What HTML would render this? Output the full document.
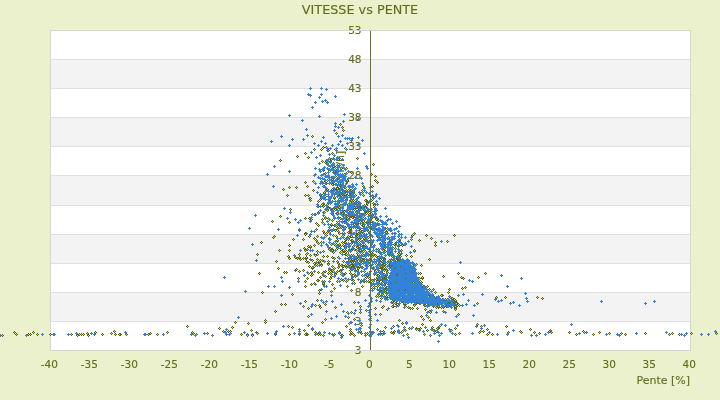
<!DOCTYPE html>
<html><head><meta charset="utf-8"><title>VITESSE vs PENTE</title>
<style>
html,body{margin:0;padding:0;background:#ebf0cd;}
body{width:720px;height:400px;overflow:hidden;position:relative;font-family:"DejaVu Sans","Liberation Sans",sans-serif;color:#636b1a;}
svg{position:absolute;left:0;top:0;display:block;will-change:transform}
text{font-family:"DejaVu Sans","Liberation Sans",sans-serif;fill:#636b1a;stroke:#636b1a;stroke-width:0.1px}
</style></head><body>
<svg width="720" height="400" viewBox="0 0 720 400" shape-rendering="crispEdges">
<defs>
<g id="b"><rect x="-1" y="0" width="3" height="1" fill="#3282d8"/><rect x="0" y="-1" width="1" height="3" fill="#3282d8"/></g>
<g id="o"><rect x="-1" y="0" width="3" height="1" fill="#5a6212"/><rect x="0" y="-1" width="1" height="3" fill="#5a6212"/><rect x="0" y="0" width="1" height="1" fill="#c3d45a"/></g>
</defs>
<rect x="0" y="0" width="720" height="400" fill="#ebf0cd"/>

<rect x="50" y="30" width="641" height="321" fill="#e0e0e0"/>
<rect x="51" y="31" width="639" height="28" fill="#ffffff"/>
<rect x="51" y="60" width="639" height="28" fill="#f3f3f3"/>
<rect x="51" y="89" width="639" height="28" fill="#ffffff"/>
<rect x="51" y="118" width="639" height="28" fill="#f3f3f3"/>
<rect x="51" y="147" width="639" height="28" fill="#ffffff"/>
<rect x="51" y="176" width="639" height="29" fill="#f3f3f3"/>
<rect x="51" y="206" width="639" height="28" fill="#ffffff"/>
<rect x="51" y="235" width="639" height="28" fill="#f3f3f3"/>
<rect x="51" y="264" width="639" height="28" fill="#ffffff"/>
<rect x="51" y="293" width="639" height="28" fill="#f3f3f3"/>
<rect x="51" y="322" width="639" height="28" fill="#ffffff"/>
<text x="0" y="0" font-size="11" text-anchor="middle" transform="translate(343.5,190.5) rotate(-90)">Vitesse [km/h]</text>
<text x="361.5" y="34" font-size="10.5" text-anchor="end">53</text>
<text x="361.5" y="63" font-size="10.5" text-anchor="end">48</text>
<text x="361.5" y="92" font-size="10.5" text-anchor="end">43</text>
<text x="361.5" y="121" font-size="10.5" text-anchor="end">38</text>
<text x="361.5" y="150" font-size="10.5" text-anchor="end">33</text>
<text x="361.5" y="179" font-size="10.5" text-anchor="end">28</text>
<text x="361.5" y="209" font-size="10.5" text-anchor="end">23</text>
<text x="361.5" y="238" font-size="10.5" text-anchor="end">18</text>
<text x="361.5" y="267" font-size="10.5" text-anchor="end">13</text>
<text x="361.5" y="296" font-size="10.5" text-anchor="end">8</text>
<text x="361.5" y="325" font-size="10.5" text-anchor="end">3</text>
<text x="361.5" y="354" font-size="10.5" text-anchor="end">3</text>
<text x="49.3" y="368" font-size="10.5" text-anchor="middle">-40</text>
<text x="89.3" y="368" font-size="10.5" text-anchor="middle">-35</text>
<text x="129.3" y="368" font-size="10.5" text-anchor="middle">-30</text>
<text x="169.3" y="368" font-size="10.5" text-anchor="middle">-25</text>
<text x="209.3" y="368" font-size="10.5" text-anchor="middle">-20</text>
<text x="249.3" y="368" font-size="10.5" text-anchor="middle">-15</text>
<text x="289.3" y="368" font-size="10.5" text-anchor="middle">-10</text>
<text x="329.3" y="368" font-size="10.5" text-anchor="middle">-5</text>
<text x="369.3" y="368" font-size="10.5" text-anchor="middle">0</text>
<text x="409.3" y="368" font-size="10.5" text-anchor="middle">5</text>
<text x="449.3" y="368" font-size="10.5" text-anchor="middle">10</text>
<text x="489.3" y="368" font-size="10.5" text-anchor="middle">15</text>
<text x="529.3" y="368" font-size="10.5" text-anchor="middle">20</text>
<text x="569.3" y="368" font-size="10.5" text-anchor="middle">25</text>
<text x="609.3" y="368" font-size="10.5" text-anchor="middle">30</text>
<text x="649.3" y="368" font-size="10.5" text-anchor="middle">35</text>
<text x="689.3" y="368" font-size="10.5" text-anchor="middle">40</text>
<text x="690" y="384" font-size="11" text-anchor="end">Pente [%]</text>
<text x="360" y="14" font-size="12.8" text-anchor="middle">VITESSE vs PENTE</text>
<path d="M50 30h641v1h-641zM50 350h641v1h-641zM50 30h1v321h-1zM690 30h1v321h-1z" fill="#d6d6d6"/>
<g><use href="#b" x="389" y="288"/><use href="#b" x="389" y="293"/><use href="#b" x="390" y="275"/><use href="#b" x="390" y="280"/><use href="#b" x="390" y="285"/><use href="#b" x="390" y="290"/><use href="#b" x="390" y="295"/><use href="#b" x="391" y="272"/><use href="#b" x="391" y="277"/><use href="#b" x="391" y="282"/><use href="#b" x="391" y="287"/><use href="#b" x="391" y="292"/><use href="#b" x="391" y="297"/><use href="#b" x="392" y="264"/><use href="#b" x="392" y="269"/><use href="#b" x="392" y="274"/><use href="#b" x="392" y="279"/><use href="#b" x="392" y="284"/><use href="#b" x="392" y="289"/><use href="#b" x="392" y="294"/><use href="#b" x="392" y="299"/><use href="#b" x="393" y="266"/><use href="#b" x="393" y="271"/><use href="#b" x="393" y="276"/><use href="#b" x="393" y="281"/><use href="#b" x="393" y="286"/><use href="#b" x="393" y="291"/><use href="#b" x="393" y="296"/><use href="#b" x="394" y="263"/><use href="#b" x="394" y="268"/><use href="#b" x="394" y="273"/><use href="#b" x="394" y="278"/><use href="#b" x="394" y="283"/><use href="#b" x="394" y="288"/><use href="#b" x="394" y="293"/><use href="#b" x="394" y="298"/><use href="#b" x="395" y="265"/><use href="#b" x="395" y="270"/><use href="#b" x="395" y="275"/><use href="#b" x="395" y="280"/><use href="#b" x="395" y="285"/><use href="#b" x="395" y="290"/><use href="#b" x="395" y="295"/><use href="#b" x="395" y="300"/><use href="#b" x="396" y="262"/><use href="#b" x="396" y="267"/><use href="#b" x="396" y="272"/><use href="#b" x="396" y="277"/><use href="#b" x="396" y="282"/><use href="#b" x="396" y="287"/><use href="#b" x="396" y="292"/><use href="#b" x="396" y="297"/><use href="#b" x="397" y="264"/><use href="#b" x="397" y="269"/><use href="#b" x="397" y="274"/><use href="#b" x="397" y="279"/><use href="#b" x="397" y="284"/><use href="#b" x="397" y="289"/><use href="#b" x="397" y="294"/><use href="#b" x="397" y="299"/><use href="#b" x="398" y="266"/><use href="#b" x="398" y="271"/><use href="#b" x="398" y="276"/><use href="#b" x="398" y="281"/><use href="#b" x="398" y="286"/><use href="#b" x="398" y="291"/><use href="#b" x="398" y="296"/><use href="#b" x="399" y="263"/><use href="#b" x="399" y="268"/><use href="#b" x="399" y="273"/><use href="#b" x="399" y="278"/><use href="#b" x="399" y="283"/><use href="#b" x="399" y="288"/><use href="#b" x="399" y="293"/><use href="#b" x="399" y="298"/><use href="#b" x="400" y="265"/><use href="#b" x="400" y="270"/><use href="#b" x="400" y="275"/><use href="#b" x="400" y="280"/><use href="#b" x="400" y="285"/><use href="#b" x="400" y="290"/><use href="#b" x="400" y="295"/><use href="#b" x="400" y="300"/><use href="#b" x="401" y="262"/><use href="#b" x="401" y="267"/><use href="#b" x="401" y="272"/><use href="#b" x="401" y="277"/><use href="#b" x="401" y="282"/><use href="#b" x="401" y="287"/><use href="#b" x="401" y="292"/><use href="#b" x="401" y="297"/><use href="#b" x="402" y="264"/><use href="#b" x="402" y="269"/><use href="#b" x="402" y="274"/><use href="#b" x="402" y="279"/><use href="#b" x="402" y="284"/><use href="#b" x="402" y="289"/><use href="#b" x="402" y="294"/><use href="#b" x="402" y="299"/><use href="#b" x="403" y="261"/><use href="#b" x="403" y="266"/><use href="#b" x="403" y="271"/><use href="#b" x="403" y="276"/><use href="#b" x="403" y="281"/><use href="#b" x="403" y="286"/><use href="#b" x="403" y="291"/><use href="#b" x="403" y="296"/><use href="#b" x="403" y="301"/><use href="#b" x="404" y="263"/><use href="#b" x="404" y="268"/><use href="#b" x="404" y="273"/><use href="#b" x="404" y="278"/><use href="#b" x="404" y="283"/><use href="#b" x="404" y="288"/><use href="#b" x="404" y="293"/><use href="#b" x="404" y="298"/><use href="#b" x="405" y="265"/><use href="#b" x="405" y="270"/><use href="#b" x="405" y="275"/><use href="#b" x="405" y="280"/><use href="#b" x="405" y="285"/><use href="#b" x="405" y="290"/><use href="#b" x="405" y="295"/><use href="#b" x="405" y="300"/><use href="#b" x="406" y="262"/><use href="#b" x="406" y="267"/><use href="#b" x="406" y="272"/><use href="#b" x="406" y="277"/><use href="#b" x="406" y="282"/><use href="#b" x="406" y="287"/><use href="#b" x="406" y="292"/><use href="#b" x="406" y="297"/><use href="#b" x="407" y="264"/><use href="#b" x="407" y="269"/><use href="#b" x="407" y="274"/><use href="#b" x="407" y="279"/><use href="#b" x="407" y="284"/><use href="#b" x="407" y="289"/><use href="#b" x="407" y="294"/><use href="#b" x="407" y="299"/><use href="#b" x="408" y="261"/><use href="#b" x="408" y="266"/><use href="#b" x="408" y="271"/><use href="#b" x="408" y="276"/><use href="#b" x="408" y="281"/><use href="#b" x="408" y="286"/><use href="#b" x="408" y="291"/><use href="#b" x="408" y="296"/><use href="#b" x="408" y="301"/><use href="#b" x="409" y="263"/><use href="#b" x="409" y="268"/><use href="#b" x="409" y="273"/><use href="#b" x="409" y="278"/><use href="#b" x="409" y="283"/><use href="#b" x="409" y="288"/><use href="#b" x="409" y="293"/><use href="#b" x="409" y="298"/><use href="#b" x="410" y="265"/><use href="#b" x="410" y="270"/><use href="#b" x="410" y="275"/><use href="#b" x="410" y="280"/><use href="#b" x="410" y="285"/><use href="#b" x="410" y="290"/><use href="#b" x="410" y="295"/><use href="#b" x="410" y="300"/><use href="#b" x="411" y="267"/><use href="#b" x="411" y="272"/><use href="#b" x="411" y="277"/><use href="#b" x="411" y="282"/><use href="#b" x="411" y="287"/><use href="#b" x="411" y="292"/><use href="#b" x="411" y="297"/><use href="#b" x="411" y="302"/><use href="#b" x="412" y="269"/><use href="#b" x="412" y="274"/><use href="#b" x="412" y="279"/><use href="#b" x="412" y="284"/><use href="#b" x="412" y="289"/><use href="#b" x="412" y="294"/><use href="#b" x="412" y="299"/><use href="#b" x="413" y="266"/><use href="#b" x="413" y="271"/><use href="#b" x="413" y="276"/><use href="#b" x="413" y="281"/><use href="#b" x="413" y="286"/><use href="#b" x="413" y="291"/><use href="#b" x="413" y="296"/><use href="#b" x="413" y="301"/><use href="#b" x="414" y="273"/><use href="#b" x="414" y="278"/><use href="#b" x="414" y="283"/><use href="#b" x="414" y="288"/><use href="#b" x="414" y="293"/><use href="#b" x="414" y="298"/><use href="#b" x="415" y="275"/><use href="#b" x="415" y="280"/><use href="#b" x="415" y="285"/><use href="#b" x="415" y="290"/><use href="#b" x="415" y="295"/><use href="#b" x="415" y="300"/><use href="#b" x="416" y="277"/><use href="#b" x="416" y="282"/><use href="#b" x="416" y="287"/><use href="#b" x="416" y="292"/><use href="#b" x="416" y="297"/><use href="#b" x="416" y="302"/><use href="#b" x="417" y="279"/><use href="#b" x="417" y="284"/><use href="#b" x="417" y="289"/><use href="#b" x="417" y="294"/><use href="#b" x="417" y="299"/><use href="#b" x="418" y="281"/><use href="#b" x="418" y="286"/><use href="#b" x="418" y="291"/><use href="#b" x="418" y="296"/><use href="#b" x="418" y="301"/><use href="#b" x="419" y="283"/><use href="#b" x="419" y="288"/><use href="#b" x="419" y="293"/><use href="#b" x="419" y="298"/><use href="#b" x="419" y="303"/><use href="#b" x="420" y="285"/><use href="#b" x="420" y="290"/><use href="#b" x="420" y="295"/><use href="#b" x="420" y="300"/><use href="#b" x="421" y="287"/><use href="#b" x="421" y="292"/><use href="#b" x="421" y="297"/><use href="#b" x="421" y="302"/><use href="#b" x="422" y="289"/><use href="#b" x="422" y="294"/><use href="#b" x="422" y="299"/><use href="#b" x="423" y="291"/><use href="#b" x="423" y="296"/><use href="#b" x="423" y="301"/><use href="#b" x="424" y="288"/><use href="#b" x="424" y="293"/><use href="#b" x="424" y="298"/><use href="#b" x="424" y="303"/><use href="#b" x="425" y="290"/><use href="#b" x="425" y="295"/><use href="#b" x="425" y="300"/><use href="#b" x="426" y="292"/><use href="#b" x="426" y="297"/><use href="#b" x="426" y="302"/><use href="#b" x="427" y="294"/><use href="#b" x="427" y="299"/><use href="#b" x="428" y="296"/><use href="#b" x="428" y="301"/><use href="#b" x="429" y="293"/><use href="#b" x="429" y="298"/><use href="#b" x="429" y="303"/><use href="#b" x="430" y="295"/><use href="#b" x="430" y="300"/><use href="#b" x="431" y="297"/><use href="#b" x="431" y="302"/><use href="#b" x="432" y="294"/><use href="#b" x="432" y="299"/><use href="#b" x="432" y="304"/><use href="#b" x="433" y="296"/><use href="#b" x="433" y="301"/><use href="#b" x="434" y="298"/><use href="#b" x="434" y="303"/><use href="#b" x="435" y="300"/><use href="#b" x="436" y="297"/><use href="#b" x="436" y="302"/><use href="#b" x="437" y="299"/><use href="#b" x="437" y="304"/><use href="#b" x="438" y="301"/><use href="#b" x="439" y="298"/><use href="#b" x="439" y="303"/><use href="#b" x="440" y="300"/><use href="#b" x="441" y="302"/><use href="#b" x="442" y="299"/><use href="#b" x="442" y="304"/><use href="#b" x="443" y="301"/><use href="#b" x="444" y="303"/><use href="#b" x="445" y="300"/><use href="#b" x="446" y="302"/><use href="#b" x="447" y="304"/><use href="#b" x="448" y="301"/><use href="#b" x="449" y="303"/><use href="#b" x="451" y="302"/><use href="#b" x="452" y="304"/><use href="#b" x="454" y="303"/><use href="#o" x="320" y="334"/><use href="#o" x="462" y="288"/><use href="#o" x="322" y="222"/><use href="#b" x="416" y="295"/><use href="#o" x="370" y="209"/><use href="#b" x="348" y="237"/><use href="#o" x="344" y="211"/><use href="#o" x="312" y="260"/><use href="#b" x="424" y="296"/><use href="#o" x="346" y="220"/><use href="#b" x="411" y="286"/><use href="#b" x="369" y="274"/><use href="#b" x="364" y="213"/><use href="#o" x="369" y="220"/><use href="#b" x="358" y="258"/><use href="#b" x="352" y="216"/><use href="#o" x="398" y="258"/><use href="#o" x="88" y="335"/><use href="#b" x="331" y="196"/><use href="#o" x="443" y="311"/><use href="#b" x="450" y="305"/><use href="#o" x="402" y="301"/><use href="#o" x="379" y="283"/><use href="#o" x="353" y="192"/><use href="#o" x="356" y="260"/><use href="#b" x="416" y="285"/><use href="#b" x="489" y="332"/><use href="#b" x="337" y="238"/><use href="#b" x="403" y="260"/><use href="#b" x="330" y="191"/><use href="#o" x="403" y="262"/><use href="#o" x="359" y="205"/><use href="#b" x="349" y="138"/><use href="#b" x="426" y="292"/><use href="#o" x="393" y="301"/><use href="#b" x="364" y="209"/><use href="#o" x="438" y="303"/><use href="#b" x="344" y="178"/><use href="#o" x="368" y="281"/><use href="#b" x="349" y="186"/><use href="#o" x="378" y="220"/><use href="#b" x="359" y="213"/><use href="#b" x="398" y="272"/><use href="#b" x="325" y="100"/><use href="#b" x="329" y="248"/><use href="#b" x="353" y="191"/><use href="#b" x="397" y="275"/><use href="#o" x="322" y="273"/><use href="#b" x="390" y="298"/><use href="#o" x="401" y="250"/><use href="#o" x="424" y="304"/><use href="#b" x="427" y="301"/><use href="#o" x="392" y="253"/><use href="#o" x="317" y="236"/><use href="#b" x="341" y="193"/><use href="#b" x="586" y="332"/><use href="#o" x="333" y="235"/><use href="#o" x="332" y="249"/><use href="#b" x="345" y="180"/><use href="#o" x="331" y="177"/><use href="#b" x="410" y="263"/><use href="#b" x="393" y="268"/><use href="#b" x="395" y="272"/><use href="#b" x="396" y="275"/><use href="#b" x="396" y="288"/><use href="#b" x="402" y="293"/><use href="#o" x="380" y="262"/><use href="#b" x="320" y="206"/><use href="#b" x="329" y="268"/><use href="#o" x="569" y="332"/><use href="#o" x="281" y="304"/><use href="#b" x="360" y="309"/><use href="#o" x="455" y="308"/><use href="#o" x="412" y="293"/><use href="#b" x="401" y="289"/><use href="#b" x="366" y="192"/><use href="#b" x="519" y="305"/><use href="#b" x="381" y="232"/><use href="#o" x="385" y="268"/><use href="#b" x="330" y="208"/><use href="#b" x="345" y="203"/><use href="#b" x="376" y="249"/><use href="#o" x="391" y="267"/><use href="#o" x="417" y="308"/><use href="#b" x="399" y="251"/><use href="#o" x="308" y="157"/><use href="#b" x="335" y="184"/><use href="#o" x="327" y="210"/><use href="#b" x="387" y="270"/><use href="#o" x="477" y="324"/><use href="#o" x="296" y="187"/><use href="#b" x="368" y="254"/><use href="#b" x="361" y="250"/><use href="#b" x="382" y="221"/><use href="#b" x="391" y="294"/><use href="#o" x="443" y="306"/><use href="#o" x="417" y="282"/><use href="#o" x="438" y="300"/><use href="#b" x="426" y="315"/><use href="#o" x="286" y="272"/><use href="#o" x="350" y="200"/><use href="#b" x="404" y="296"/><use href="#o" x="341" y="211"/><use href="#o" x="413" y="278"/><use href="#o" x="337" y="248"/><use href="#o" x="348" y="239"/><use href="#b" x="417" y="289"/><use href="#b" x="370" y="214"/><use href="#b" x="356" y="203"/><use href="#o" x="307" y="186"/><use href="#b" x="397" y="259"/><use href="#o" x="342" y="250"/><use href="#o" x="378" y="232"/><use href="#b" x="396" y="242"/><use href="#b" x="362" y="252"/><use href="#b" x="368" y="219"/><use href="#o" x="457" y="304"/><use href="#b" x="382" y="276"/><use href="#o" x="357" y="256"/><use href="#b" x="371" y="216"/><use href="#o" x="430" y="335"/><use href="#b" x="365" y="274"/><use href="#b" x="344" y="214"/><use href="#b" x="346" y="266"/><use href="#o" x="305" y="286"/><use href="#b" x="249" y="228"/><use href="#b" x="345" y="176"/><use href="#b" x="382" y="277"/><use href="#b" x="406" y="293"/><use href="#b" x="381" y="235"/><use href="#o" x="599" y="332"/><use href="#b" x="383" y="228"/><use href="#o" x="424" y="334"/><use href="#b" x="256" y="332"/><use href="#o" x="348" y="251"/><use href="#o" x="362" y="217"/><use href="#o" x="369" y="214"/><use href="#b" x="322" y="281"/><use href="#o" x="391" y="285"/><use href="#b" x="443" y="302"/><use href="#b" x="337" y="241"/><use href="#o" x="411" y="256"/><use href="#b" x="325" y="209"/><use href="#b" x="394" y="268"/><use href="#b" x="378" y="261"/><use href="#b" x="403" y="268"/><use href="#b" x="410" y="296"/><use href="#o" x="334" y="192"/><use href="#b" x="408" y="286"/><use href="#b" x="330" y="148"/><use href="#b" x="247" y="334"/><use href="#b" x="413" y="290"/><use href="#b" x="356" y="220"/><use href="#b" x="320" y="252"/><use href="#b" x="434" y="297"/><use href="#o" x="363" y="233"/><use href="#o" x="312" y="329"/><use href="#o" x="359" y="243"/><use href="#b" x="441" y="241"/><use href="#o" x="329" y="238"/><use href="#o" x="343" y="237"/><use href="#b" x="406" y="269"/><use href="#b" x="432" y="305"/><use href="#o" x="391" y="280"/><use href="#b" x="418" y="302"/><use href="#o" x="305" y="250"/><use href="#o" x="335" y="274"/><use href="#o" x="350" y="329"/><use href="#o" x="428" y="300"/><use href="#b" x="312" y="250"/><use href="#b" x="411" y="283"/><use href="#b" x="383" y="245"/><use href="#o" x="716" y="333"/><use href="#b" x="409" y="289"/><use href="#o" x="353" y="223"/><use href="#b" x="350" y="215"/><use href="#b" x="419" y="284"/><use href="#b" x="318" y="187"/><use href="#b" x="418" y="301"/><use href="#b" x="352" y="215"/><use href="#o" x="310" y="219"/><use href="#b" x="402" y="267"/><use href="#b" x="333" y="177"/><use href="#b" x="411" y="246"/><use href="#o" x="354" y="319"/><use href="#b" x="371" y="257"/><use href="#o" x="332" y="266"/><use href="#o" x="430" y="312"/><use href="#o" x="394" y="299"/><use href="#b" x="300" y="303"/><use href="#b" x="26" y="335"/><use href="#b" x="338" y="182"/><use href="#b" x="368" y="242"/><use href="#o" x="389" y="262"/><use href="#b" x="405" y="282"/><use href="#b" x="342" y="210"/><use href="#b" x="392" y="290"/><use href="#o" x="344" y="174"/><use href="#o" x="399" y="240"/><use href="#o" x="354" y="274"/><use href="#o" x="384" y="278"/><use href="#o" x="370" y="265"/><use href="#o" x="453" y="304"/><use href="#o" x="371" y="240"/><use href="#o" x="478" y="277"/><use href="#b" x="373" y="247"/><use href="#o" x="352" y="259"/><use href="#b" x="378" y="276"/><use href="#b" x="344" y="114"/><use href="#b" x="445" y="300"/><use href="#b" x="361" y="178"/><use href="#b" x="387" y="220"/><use href="#b" x="382" y="224"/><use href="#b" x="369" y="222"/><use href="#o" x="445" y="299"/><use href="#o" x="287" y="195"/><use href="#o" x="235" y="322"/><use href="#o" x="338" y="217"/><use href="#o" x="352" y="333"/><use href="#b" x="343" y="226"/><use href="#b" x="323" y="198"/><use href="#b" x="430" y="295"/><use href="#b" x="404" y="289"/><use href="#b" x="350" y="186"/><use href="#b" x="355" y="271"/><use href="#o" x="414" y="294"/><use href="#b" x="341" y="194"/><use href="#b" x="362" y="214"/><use href="#b" x="349" y="228"/><use href="#o" x="429" y="293"/><use href="#o" x="371" y="214"/><use href="#b" x="338" y="202"/><use href="#o" x="435" y="306"/><use href="#o" x="315" y="332"/><use href="#b" x="374" y="211"/><use href="#b" x="308" y="94"/><use href="#o" x="328" y="263"/><use href="#o" x="288" y="256"/><use href="#b" x="356" y="204"/><use href="#o" x="37" y="334"/><use href="#b" x="348" y="265"/><use href="#b" x="341" y="304"/><use href="#b" x="333" y="163"/><use href="#o" x="353" y="280"/><use href="#o" x="414" y="270"/><use href="#b" x="394" y="292"/><use href="#b" x="369" y="310"/><use href="#o" x="328" y="273"/><use href="#b" x="391" y="249"/><use href="#o" x="356" y="243"/><use href="#o" x="408" y="302"/><use href="#b" x="404" y="291"/><use href="#b" x="343" y="251"/><use href="#o" x="352" y="204"/><use href="#b" x="327" y="207"/><use href="#b" x="417" y="293"/><use href="#b" x="398" y="293"/><use href="#o" x="374" y="197"/><use href="#b" x="310" y="88"/><use href="#b" x="338" y="188"/><use href="#o" x="443" y="304"/><use href="#o" x="454" y="304"/><use href="#b" x="401" y="288"/><use href="#b" x="424" y="300"/><use href="#b" x="424" y="297"/><use href="#b" x="372" y="214"/><use href="#o" x="297" y="156"/><use href="#b" x="307" y="272"/><use href="#b" x="372" y="290"/><use href="#o" x="334" y="272"/><use href="#o" x="409" y="281"/><use href="#b" x="342" y="159"/><use href="#o" x="337" y="271"/><use href="#b" x="370" y="320"/><use href="#o" x="308" y="316"/><use href="#o" x="343" y="215"/><use href="#b" x="341" y="214"/><use href="#b" x="390" y="279"/><use href="#o" x="341" y="196"/><use href="#b" x="396" y="294"/><use href="#b" x="336" y="205"/><use href="#o" x="445" y="301"/><use href="#b" x="373" y="198"/><use href="#b" x="319" y="97"/><use href="#b" x="382" y="262"/><use href="#o" x="319" y="262"/><use href="#o" x="320" y="195"/><use href="#o" x="290" y="209"/><use href="#b" x="415" y="297"/><use href="#b" x="334" y="155"/><use href="#o" x="390" y="291"/><use href="#b" x="319" y="169"/><use href="#b" x="324" y="237"/><use href="#o" x="625" y="334"/><use href="#b" x="348" y="243"/><use href="#o" x="424" y="299"/><use href="#o" x="355" y="207"/><use href="#o" x="345" y="247"/><use href="#o" x="451" y="305"/><use href="#o" x="327" y="164"/><use href="#b" x="579" y="333"/><use href="#b" x="381" y="271"/><use href="#o" x="422" y="300"/><use href="#b" x="415" y="293"/><use href="#o" x="383" y="306"/><use href="#o" x="389" y="297"/><use href="#b" x="355" y="237"/><use href="#o" x="422" y="294"/><use href="#b" x="412" y="269"/><use href="#b" x="334" y="181"/><use href="#o" x="356" y="217"/><use href="#o" x="387" y="272"/><use href="#o" x="609" y="333"/><use href="#b" x="395" y="268"/><use href="#b" x="385" y="291"/><use href="#b" x="360" y="245"/><use href="#b" x="392" y="291"/><use href="#o" x="438" y="299"/><use href="#b" x="433" y="302"/><use href="#b" x="338" y="136"/><use href="#o" x="384" y="284"/><use href="#o" x="344" y="216"/><use href="#b" x="645" y="303"/><use href="#o" x="336" y="272"/><use href="#o" x="344" y="187"/><use href="#b" x="399" y="291"/><use href="#o" x="322" y="260"/><use href="#o" x="350" y="260"/><use href="#o" x="439" y="304"/><use href="#o" x="207" y="333"/><use href="#o" x="389" y="260"/><use href="#o" x="443" y="307"/><use href="#b" x="398" y="296"/><use href="#o" x="433" y="296"/><use href="#b" x="339" y="195"/><use href="#o" x="275" y="334"/><use href="#b" x="363" y="223"/><use href="#o" x="363" y="259"/><use href="#o" x="344" y="242"/><use href="#o" x="33" y="332"/><use href="#o" x="362" y="286"/><use href="#o" x="377" y="182"/><use href="#b" x="275" y="333"/><use href="#b" x="387" y="233"/><use href="#b" x="342" y="198"/><use href="#b" x="340" y="170"/><use href="#o" x="272" y="221"/><use href="#b" x="395" y="269"/><use href="#b" x="353" y="196"/><use href="#o" x="332" y="220"/><use href="#b" x="411" y="302"/><use href="#o" x="311" y="275"/><use href="#o" x="415" y="302"/><use href="#b" x="401" y="291"/><use href="#o" x="120" y="334"/><use href="#o" x="393" y="268"/><use href="#o" x="413" y="284"/><use href="#b" x="397" y="300"/><use href="#o" x="404" y="304"/><use href="#o" x="363" y="186"/><use href="#o" x="390" y="276"/><use href="#o" x="417" y="280"/><use href="#o" x="355" y="216"/><use href="#o" x="315" y="305"/><use href="#b" x="310" y="234"/><use href="#b" x="306" y="233"/><use href="#o" x="430" y="320"/><use href="#b" x="342" y="195"/><use href="#o" x="344" y="229"/><use href="#o" x="433" y="289"/><use href="#o" x="357" y="236"/><use href="#o" x="448" y="302"/><use href="#o" x="329" y="158"/><use href="#b" x="416" y="290"/><use href="#b" x="411" y="297"/><use href="#b" x="370" y="279"/><use href="#o" x="399" y="260"/><use href="#o" x="399" y="266"/><use href="#b" x="398" y="246"/><use href="#o" x="391" y="286"/><use href="#o" x="406" y="294"/><use href="#o" x="375" y="225"/><use href="#o" x="356" y="234"/><use href="#b" x="376" y="300"/><use href="#b" x="333" y="172"/><use href="#b" x="412" y="272"/><use href="#o" x="342" y="213"/><use href="#b" x="379" y="256"/><use href="#o" x="358" y="258"/><use href="#o" x="323" y="170"/><use href="#b" x="408" y="291"/><use href="#o" x="371" y="200"/><use href="#o" x="414" y="275"/><use href="#b" x="328" y="202"/><use href="#b" x="451" y="303"/><use href="#o" x="338" y="267"/><use href="#b" x="408" y="241"/><use href="#b" x="354" y="335"/><use href="#b" x="319" y="163"/><use href="#b" x="434" y="333"/><use href="#o" x="14" y="332"/><use href="#b" x="473" y="315"/><use href="#o" x="537" y="297"/><use href="#b" x="422" y="298"/><use href="#o" x="383" y="264"/><use href="#b" x="379" y="237"/><use href="#o" x="421" y="316"/><use href="#b" x="364" y="188"/><use href="#b" x="406" y="300"/><use href="#b" x="390" y="253"/><use href="#o" x="386" y="288"/><use href="#o" x="319" y="261"/><use href="#b" x="368" y="226"/><use href="#b" x="403" y="283"/><use href="#o" x="402" y="323"/><use href="#b" x="349" y="210"/><use href="#o" x="338" y="231"/><use href="#b" x="405" y="283"/><use href="#b" x="418" y="291"/><use href="#o" x="320" y="307"/><use href="#b" x="433" y="297"/><use href="#b" x="411" y="288"/><use href="#o" x="378" y="267"/><use href="#o" x="458" y="314"/><use href="#o" x="351" y="243"/><use href="#b" x="333" y="193"/><use href="#b" x="416" y="299"/><use href="#b" x="336" y="207"/><use href="#b" x="418" y="293"/><use href="#o" x="310" y="200"/><use href="#b" x="408" y="271"/><use href="#o" x="265" y="322"/><use href="#b" x="426" y="291"/><use href="#o" x="337" y="281"/><use href="#b" x="378" y="334"/><use href="#b" x="365" y="208"/><use href="#o" x="356" y="219"/><use href="#o" x="372" y="217"/><use href="#b" x="333" y="335"/><use href="#b" x="416" y="292"/><use href="#o" x="414" y="304"/><use href="#o" x="333" y="271"/><use href="#o" x="395" y="264"/><use href="#o" x="422" y="285"/><use href="#b" x="411" y="282"/><use href="#o" x="387" y="228"/><use href="#b" x="323" y="212"/><use href="#b" x="408" y="260"/><use href="#o" x="383" y="331"/><use href="#b" x="323" y="203"/><use href="#b" x="402" y="278"/><use href="#b" x="419" y="280"/><use href="#o" x="392" y="277"/><use href="#o" x="364" y="219"/><use href="#b" x="245" y="291"/><use href="#b" x="328" y="196"/><use href="#o" x="77" y="335"/><use href="#b" x="404" y="262"/><use href="#o" x="369" y="261"/><use href="#b" x="355" y="310"/><use href="#b" x="375" y="204"/><use href="#o" x="318" y="280"/><use href="#b" x="354" y="265"/><use href="#o" x="387" y="283"/><use href="#b" x="371" y="240"/><use href="#b" x="364" y="259"/><use href="#b" x="336" y="191"/><use href="#b" x="419" y="298"/><use href="#o" x="373" y="164"/><use href="#o" x="407" y="274"/><use href="#o" x="349" y="226"/><use href="#b" x="394" y="288"/><use href="#b" x="322" y="169"/><use href="#b" x="404" y="281"/><use href="#o" x="284" y="272"/><use href="#o" x="369" y="236"/><use href="#o" x="347" y="237"/><use href="#o" x="167" y="332"/><use href="#o" x="334" y="244"/><use href="#o" x="289" y="222"/><use href="#b" x="348" y="208"/><use href="#o" x="365" y="207"/><use href="#b" x="397" y="276"/><use href="#b" x="369" y="305"/><use href="#b" x="365" y="335"/><use href="#o" x="230" y="331"/><use href="#o" x="374" y="204"/><use href="#o" x="373" y="216"/><use href="#b" x="339" y="158"/><use href="#b" x="396" y="281"/><use href="#o" x="230" y="333"/><use href="#o" x="461" y="277"/><use href="#o" x="428" y="305"/><use href="#o" x="373" y="281"/><use href="#b" x="382" y="293"/><use href="#b" x="366" y="236"/><use href="#o" x="378" y="264"/><use href="#o" x="443" y="276"/><use href="#o" x="363" y="240"/><use href="#o" x="394" y="267"/><use href="#b" x="408" y="268"/><use href="#b" x="358" y="144"/><use href="#o" x="413" y="266"/><use href="#o" x="410" y="308"/><use href="#b" x="350" y="194"/><use href="#b" x="367" y="208"/><use href="#b" x="351" y="200"/><use href="#b" x="393" y="291"/><use href="#b" x="343" y="177"/><use href="#o" x="305" y="195"/><use href="#b" x="366" y="246"/><use href="#b" x="365" y="262"/><use href="#b" x="352" y="138"/><use href="#o" x="407" y="295"/><use href="#b" x="314" y="238"/><use href="#o" x="405" y="306"/><use href="#b" x="410" y="268"/><use href="#o" x="326" y="147"/><use href="#o" x="320" y="199"/><use href="#o" x="334" y="288"/><use href="#b" x="331" y="210"/><use href="#o" x="382" y="307"/><use href="#o" x="328" y="169"/><use href="#b" x="332" y="334"/><use href="#b" x="350" y="208"/><use href="#o" x="339" y="176"/><use href="#o" x="348" y="205"/><use href="#b" x="419" y="295"/><use href="#b" x="386" y="293"/><use href="#o" x="262" y="292"/><use href="#o" x="428" y="295"/><use href="#o" x="347" y="224"/><use href="#b" x="401" y="299"/><use href="#b" x="453" y="305"/><use href="#o" x="428" y="296"/><use href="#b" x="335" y="126"/><use href="#o" x="359" y="228"/><use href="#b" x="385" y="264"/><use href="#o" x="448" y="303"/><use href="#b" x="372" y="226"/><use href="#b" x="437" y="331"/><use href="#b" x="342" y="180"/><use href="#o" x="316" y="223"/><use href="#b" x="332" y="180"/><use href="#o" x="360" y="207"/><use href="#b" x="369" y="273"/><use href="#b" x="374" y="279"/><use href="#o" x="400" y="259"/><use href="#o" x="349" y="260"/><use href="#o" x="327" y="256"/><use href="#b" x="363" y="243"/><use href="#b" x="411" y="266"/><use href="#o" x="318" y="212"/><use href="#b" x="388" y="250"/><use href="#b" x="417" y="284"/><use href="#b" x="337" y="188"/><use href="#b" x="335" y="191"/><use href="#b" x="454" y="301"/><use href="#b" x="396" y="277"/><use href="#b" x="341" y="200"/><use href="#b" x="345" y="316"/><use href="#b" x="356" y="224"/><use href="#o" x="375" y="196"/><use href="#b" x="323" y="238"/><use href="#b" x="436" y="299"/><use href="#o" x="381" y="291"/><use href="#o" x="398" y="291"/><use href="#b" x="510" y="303"/><use href="#o" x="324" y="212"/><use href="#b" x="412" y="263"/><use href="#o" x="323" y="194"/><use href="#o" x="318" y="243"/><use href="#o" x="321" y="264"/><use href="#b" x="341" y="337"/><use href="#b" x="311" y="314"/><use href="#o" x="363" y="226"/><use href="#o" x="368" y="202"/><use href="#o" x="452" y="303"/><use href="#b" x="337" y="208"/><use href="#o" x="318" y="225"/><use href="#o" x="340" y="270"/><use href="#b" x="348" y="207"/><use href="#b" x="388" y="246"/><use href="#b" x="358" y="204"/><use href="#b" x="406" y="279"/><use href="#b" x="336" y="213"/><use href="#b" x="350" y="251"/><use href="#b" x="324" y="196"/><use href="#b" x="352" y="209"/><use href="#b" x="686" y="333"/><use href="#o" x="367" y="212"/><use href="#o" x="385" y="251"/><use href="#b" x="395" y="277"/><use href="#b" x="404" y="273"/><use href="#o" x="483" y="331"/><use href="#o" x="414" y="266"/><use href="#o" x="389" y="293"/><use href="#o" x="346" y="281"/><use href="#o" x="389" y="265"/><use href="#o" x="435" y="292"/><use href="#o" x="328" y="218"/><use href="#o" x="427" y="298"/><use href="#b" x="321" y="197"/><use href="#o" x="305" y="182"/><use href="#b" x="326" y="160"/><use href="#b" x="356" y="211"/><use href="#b" x="399" y="278"/><use href="#o" x="289" y="258"/><use href="#o" x="347" y="312"/><use href="#b" x="414" y="299"/><use href="#o" x="381" y="238"/><use href="#o" x="335" y="245"/><use href="#o" x="441" y="303"/><use href="#b" x="370" y="259"/><use href="#b" x="325" y="176"/><use href="#b" x="358" y="329"/><use href="#b" x="371" y="334"/><use href="#b" x="443" y="301"/><use href="#b" x="374" y="226"/><use href="#b" x="404" y="282"/><use href="#b" x="345" y="221"/><use href="#o" x="364" y="230"/><use href="#b" x="415" y="296"/><use href="#b" x="383" y="232"/><use href="#b" x="416" y="273"/><use href="#b" x="339" y="208"/><use href="#b" x="353" y="226"/><use href="#b" x="343" y="198"/><use href="#b" x="388" y="281"/><use href="#b" x="313" y="267"/><use href="#b" x="388" y="261"/><use href="#b" x="400" y="279"/><use href="#o" x="452" y="302"/><use href="#b" x="400" y="296"/><use href="#o" x="372" y="280"/><use href="#o" x="328" y="162"/><use href="#o" x="362" y="190"/><use href="#b" x="353" y="193"/><use href="#o" x="196" y="334"/><use href="#o" x="404" y="263"/><use href="#b" x="398" y="280"/><use href="#o" x="363" y="280"/><use href="#o" x="371" y="211"/><use href="#b" x="336" y="316"/><use href="#o" x="371" y="218"/><use href="#o" x="365" y="240"/><use href="#b" x="360" y="209"/><use href="#b" x="495" y="299"/><use href="#b" x="389" y="285"/><use href="#b" x="351" y="249"/><use href="#o" x="102" y="334"/><use href="#b" x="351" y="222"/><use href="#o" x="322" y="161"/><use href="#b" x="337" y="165"/><use href="#b" x="397" y="288"/><use href="#b" x="403" y="265"/><use href="#b" x="413" y="268"/><use href="#o" x="397" y="274"/><use href="#b" x="389" y="229"/><use href="#o" x="372" y="251"/><use href="#b" x="450" y="304"/><use href="#o" x="392" y="283"/><use href="#o" x="389" y="282"/><use href="#b" x="422" y="289"/><use href="#o" x="438" y="302"/><use href="#o" x="79" y="334"/><use href="#o" x="459" y="305"/><use href="#b" x="401" y="285"/><use href="#b" x="349" y="232"/><use href="#o" x="357" y="270"/><use href="#b" x="406" y="268"/><use href="#o" x="583" y="331"/><use href="#b" x="394" y="233"/><use href="#b" x="405" y="277"/><use href="#b" x="335" y="203"/><use href="#o" x="115" y="334"/><use href="#b" x="536" y="335"/><use href="#o" x="374" y="207"/><use href="#b" x="369" y="335"/><use href="#b" x="399" y="226"/><use href="#b" x="226" y="334"/><use href="#b" x="372" y="236"/><use href="#o" x="350" y="334"/><use href="#o" x="308" y="325"/><use href="#o" x="347" y="262"/><use href="#o" x="338" y="159"/><use href="#b" x="399" y="332"/><use href="#b" x="406" y="262"/><use href="#b" x="326" y="183"/><use href="#o" x="347" y="181"/><use href="#o" x="357" y="259"/><use href="#o" x="422" y="288"/><use href="#o" x="298" y="278"/><use href="#b" x="405" y="261"/><use href="#b" x="423" y="331"/><use href="#o" x="375" y="263"/><use href="#b" x="312" y="328"/><use href="#o" x="415" y="297"/><use href="#o" x="391" y="249"/><use href="#o" x="317" y="280"/><use href="#b" x="405" y="265"/><use href="#b" x="372" y="195"/><use href="#b" x="371" y="213"/><use href="#b" x="320" y="183"/><use href="#o" x="324" y="182"/><use href="#o" x="413" y="275"/><use href="#o" x="359" y="250"/><use href="#o" x="423" y="319"/><use href="#o" x="325" y="276"/><use href="#b" x="391" y="279"/><use href="#o" x="456" y="302"/><use href="#b" x="332" y="230"/><use href="#o" x="420" y="273"/><use href="#o" x="392" y="268"/><use href="#o" x="442" y="303"/><use href="#o" x="257" y="333"/><use href="#o" x="395" y="243"/><use href="#b" x="423" y="303"/><use href="#o" x="401" y="332"/><use href="#b" x="431" y="299"/><use href="#o" x="365" y="239"/><use href="#o" x="351" y="290"/><use href="#o" x="360" y="220"/><use href="#o" x="384" y="290"/><use href="#b" x="369" y="295"/><use href="#b" x="327" y="102"/><use href="#o" x="369" y="249"/><use href="#b" x="384" y="282"/><use href="#b" x="358" y="137"/><use href="#o" x="390" y="289"/><use href="#b" x="315" y="102"/><use href="#b" x="195" y="335"/><use href="#b" x="381" y="283"/><use href="#o" x="425" y="309"/><use href="#b" x="415" y="290"/><use href="#o" x="378" y="285"/><use href="#b" x="309" y="198"/><use href="#b" x="371" y="285"/><use href="#b" x="311" y="231"/><use href="#o" x="375" y="255"/><use href="#o" x="383" y="266"/><use href="#o" x="347" y="214"/><use href="#b" x="337" y="201"/><use href="#b" x="427" y="302"/><use href="#o" x="393" y="280"/><use href="#o" x="436" y="304"/><use href="#b" x="388" y="277"/><use href="#b" x="327" y="148"/><use href="#b" x="163" y="334"/><use href="#b" x="440" y="299"/><use href="#b" x="347" y="191"/><use href="#o" x="342" y="265"/><use href="#b" x="401" y="301"/><use href="#b" x="373" y="283"/><use href="#b" x="339" y="184"/><use href="#o" x="381" y="268"/><use href="#o" x="397" y="263"/><use href="#o" x="389" y="283"/><use href="#b" x="336" y="172"/><use href="#o" x="379" y="252"/><use href="#o" x="314" y="245"/><use href="#b" x="407" y="291"/><use href="#o" x="331" y="274"/><use href="#b" x="366" y="239"/><use href="#b" x="403" y="285"/><use href="#b" x="421" y="298"/><use href="#b" x="329" y="183"/><use href="#o" x="444" y="305"/><use href="#o" x="389" y="229"/><use href="#b" x="404" y="277"/><use href="#b" x="360" y="216"/><use href="#o" x="410" y="265"/><use href="#o" x="364" y="281"/><use href="#b" x="348" y="178"/><use href="#o" x="335" y="190"/><use href="#o" x="340" y="271"/><use href="#b" x="419" y="294"/><use href="#b" x="398" y="295"/><use href="#b" x="445" y="304"/><use href="#o" x="397" y="287"/><use href="#o" x="359" y="217"/><use href="#o" x="309" y="266"/><use href="#b" x="324" y="261"/><use href="#b" x="360" y="235"/><use href="#b" x="412" y="262"/><use href="#o" x="387" y="262"/><use href="#b" x="427" y="298"/><use href="#b" x="406" y="278"/><use href="#o" x="362" y="252"/><use href="#b" x="497" y="334"/><use href="#o" x="364" y="241"/><use href="#b" x="348" y="226"/><use href="#b" x="339" y="175"/><use href="#b" x="367" y="266"/><use href="#o" x="395" y="248"/><use href="#b" x="332" y="189"/><use href="#o" x="425" y="290"/><use href="#b" x="376" y="251"/><use href="#o" x="419" y="302"/><use href="#o" x="388" y="253"/><use href="#o" x="396" y="303"/><use href="#b" x="379" y="292"/><use href="#b" x="394" y="259"/><use href="#o" x="393" y="264"/><use href="#b" x="323" y="302"/><use href="#o" x="340" y="218"/><use href="#o" x="366" y="200"/><use href="#b" x="327" y="150"/><use href="#b" x="385" y="280"/><use href="#b" x="484" y="325"/><use href="#b" x="334" y="197"/><use href="#b" x="348" y="254"/><use href="#o" x="348" y="258"/><use href="#b" x="407" y="270"/><use href="#o" x="404" y="327"/><use href="#b" x="352" y="187"/><use href="#b" x="452" y="303"/><use href="#b" x="337" y="196"/><use href="#b" x="358" y="302"/><use href="#b" x="393" y="298"/><use href="#o" x="373" y="255"/><use href="#o" x="447" y="302"/><use href="#b" x="360" y="228"/><use href="#b" x="420" y="292"/><use href="#b" x="394" y="236"/><use href="#b" x="416" y="289"/><use href="#o" x="340" y="184"/><use href="#b" x="331" y="230"/><use href="#o" x="380" y="252"/><use href="#b" x="298" y="222"/><use href="#b" x="321" y="181"/><use href="#b" x="353" y="197"/><use href="#o" x="348" y="220"/><use href="#b" x="404" y="275"/><use href="#o" x="361" y="214"/><use href="#b" x="349" y="226"/><use href="#b" x="425" y="292"/><use href="#b" x="417" y="298"/><use href="#o" x="383" y="278"/><use href="#b" x="438" y="296"/><use href="#b" x="393" y="274"/><use href="#b" x="373" y="222"/><use href="#o" x="338" y="194"/><use href="#b" x="340" y="183"/><use href="#o" x="429" y="259"/><use href="#b" x="284" y="208"/><use href="#o" x="349" y="323"/><use href="#b" x="362" y="206"/><use href="#o" x="393" y="303"/><use href="#o" x="339" y="233"/><use href="#b" x="384" y="285"/><use href="#o" x="223" y="331"/><use href="#b" x="321" y="88"/><use href="#o" x="251" y="330"/><use href="#o" x="367" y="226"/><use href="#o" x="404" y="289"/><use href="#b" x="434" y="303"/><use href="#b" x="391" y="291"/><use href="#o" x="384" y="279"/><use href="#o" x="421" y="286"/><use href="#o" x="481" y="326"/><use href="#b" x="371" y="217"/><use href="#b" x="418" y="284"/><use href="#o" x="380" y="314"/><use href="#o" x="351" y="203"/><use href="#o" x="357" y="158"/><use href="#o" x="404" y="270"/><use href="#o" x="395" y="283"/><use href="#o" x="330" y="170"/><use href="#b" x="348" y="186"/><use href="#b" x="376" y="218"/><use href="#b" x="328" y="230"/><use href="#b" x="357" y="168"/><use href="#o" x="378" y="296"/><use href="#b" x="335" y="96"/><use href="#b" x="369" y="248"/><use href="#b" x="299" y="331"/><use href="#o" x="305" y="301"/><use href="#o" x="347" y="180"/><use href="#b" x="434" y="300"/><use href="#b" x="370" y="318"/><use href="#b" x="448" y="299"/><use href="#b" x="350" y="195"/><use href="#o" x="358" y="237"/><use href="#b" x="413" y="287"/><use href="#o" x="391" y="282"/><use href="#b" x="276" y="331"/><use href="#b" x="368" y="220"/><use href="#b" x="191" y="334"/><use href="#b" x="380" y="301"/><use href="#o" x="375" y="232"/><use href="#o" x="406" y="273"/><use href="#o" x="317" y="254"/><use href="#o" x="292" y="294"/><use href="#o" x="420" y="301"/><use href="#o" x="345" y="191"/><use href="#o" x="321" y="149"/><use href="#b" x="435" y="298"/><use href="#b" x="76" y="333"/><use href="#b" x="355" y="257"/><use href="#o" x="345" y="273"/><use href="#o" x="334" y="225"/><use href="#b" x="390" y="262"/><use href="#b" x="322" y="183"/><use href="#b" x="405" y="243"/><use href="#b" x="402" y="268"/><use href="#b" x="684" y="335"/><use href="#o" x="405" y="277"/><use href="#o" x="361" y="222"/><use href="#o" x="314" y="149"/><use href="#o" x="387" y="281"/><use href="#o" x="326" y="183"/><use href="#b" x="391" y="237"/><use href="#b" x="358" y="332"/><use href="#b" x="410" y="293"/><use href="#b" x="345" y="248"/><use href="#o" x="350" y="190"/><use href="#b" x="410" y="252"/><use href="#o" x="337" y="187"/><use href="#b" x="397" y="287"/><use href="#b" x="425" y="297"/><use href="#b" x="252" y="334"/><use href="#b" x="389" y="284"/><use href="#b" x="382" y="269"/><use href="#b" x="345" y="138"/><use href="#o" x="393" y="306"/><use href="#b" x="451" y="301"/><use href="#b" x="443" y="300"/><use href="#o" x="325" y="196"/><use href="#o" x="378" y="294"/><use href="#b" x="431" y="329"/><use href="#b" x="343" y="165"/><use href="#b" x="379" y="272"/><use href="#b" x="423" y="292"/><use href="#b" x="337" y="174"/><use href="#o" x="331" y="225"/><use href="#b" x="400" y="277"/><use href="#o" x="320" y="178"/><use href="#o" x="400" y="299"/><use href="#b" x="334" y="217"/><use href="#b" x="402" y="282"/><use href="#o" x="398" y="279"/><use href="#b" x="404" y="288"/><use href="#b" x="306" y="333"/><use href="#o" x="428" y="317"/><use href="#o" x="309" y="218"/><use href="#b" x="409" y="281"/><use href="#b" x="400" y="283"/><use href="#o" x="341" y="335"/><use href="#o" x="370" y="259"/><use href="#o" x="345" y="221"/><use href="#o" x="325" y="191"/><use href="#o" x="337" y="223"/><use href="#o" x="336" y="244"/><use href="#o" x="358" y="235"/><use href="#o" x="401" y="297"/><use href="#o" x="376" y="230"/><use href="#o" x="357" y="203"/><use href="#b" x="333" y="215"/><use href="#o" x="415" y="275"/><use href="#o" x="403" y="330"/><use href="#o" x="193" y="333"/><use href="#b" x="400" y="288"/><use href="#b" x="365" y="254"/><use href="#o" x="508" y="332"/><use href="#b" x="375" y="214"/><use href="#o" x="416" y="328"/><use href="#b" x="476" y="326"/><use href="#b" x="349" y="231"/><use href="#b" x="399" y="255"/><use href="#o" x="406" y="299"/><use href="#o" x="331" y="270"/><use href="#o" x="413" y="272"/><use href="#b" x="352" y="277"/><use href="#o" x="413" y="282"/><use href="#o" x="299" y="254"/><use href="#b" x="425" y="288"/><use href="#b" x="377" y="218"/><use href="#b" x="212" y="335"/><use href="#b" x="334" y="207"/><use href="#o" x="347" y="216"/><use href="#b" x="54" y="334"/><use href="#b" x="343" y="121"/><use href="#o" x="289" y="250"/><use href="#o" x="415" y="296"/><use href="#o" x="318" y="206"/><use href="#b" x="396" y="290"/><use href="#o" x="384" y="270"/><use href="#b" x="406" y="292"/><use href="#b" x="392" y="237"/><use href="#o" x="479" y="332"/><use href="#b" x="526" y="298"/><use href="#b" x="317" y="204"/><use href="#b" x="428" y="301"/><use href="#b" x="256" y="260"/><use href="#o" x="409" y="296"/><use href="#o" x="356" y="245"/><use href="#o" x="342" y="242"/><use href="#b" x="337" y="179"/><use href="#o" x="334" y="198"/><use href="#o" x="353" y="263"/><use href="#o" x="339" y="207"/><use href="#o" x="451" y="330"/><use href="#o" x="407" y="288"/><use href="#o" x="312" y="214"/><use href="#b" x="326" y="301"/><use href="#o" x="436" y="298"/><use href="#o" x="366" y="205"/><use href="#o" x="304" y="330"/><use href="#o" x="259" y="273"/><use href="#b" x="374" y="262"/><use href="#b" x="405" y="275"/><use href="#o" x="397" y="261"/><use href="#b" x="343" y="175"/><use href="#o" x="417" y="287"/><use href="#b" x="382" y="235"/><use href="#b" x="392" y="239"/><use href="#o" x="406" y="291"/><use href="#o" x="311" y="284"/><use href="#o" x="342" y="335"/><use href="#b" x="409" y="265"/><use href="#o" x="378" y="275"/><use href="#b" x="340" y="185"/><use href="#o" x="335" y="307"/><use href="#o" x="382" y="282"/><use href="#o" x="335" y="171"/><use href="#b" x="312" y="304"/><use href="#o" x="353" y="260"/><use href="#b" x="403" y="288"/><use href="#b" x="390" y="285"/><use href="#o" x="411" y="239"/><use href="#o" x="454" y="235"/><use href="#o" x="324" y="186"/><use href="#o" x="386" y="287"/><use href="#b" x="366" y="254"/><use href="#b" x="329" y="219"/><use href="#o" x="325" y="162"/><use href="#b" x="394" y="264"/><use href="#b" x="362" y="236"/><use href="#o" x="441" y="300"/><use href="#b" x="398" y="298"/><use href="#o" x="392" y="267"/><use href="#o" x="342" y="185"/><use href="#o" x="402" y="260"/><use href="#b" x="411" y="290"/><use href="#o" x="346" y="279"/><use href="#b" x="379" y="278"/><use href="#b" x="326" y="189"/><use href="#b" x="390" y="288"/><use href="#o" x="397" y="298"/><use href="#b" x="351" y="199"/><use href="#o" x="340" y="188"/><use href="#o" x="393" y="265"/><use href="#b" x="349" y="195"/><use href="#b" x="353" y="204"/><use href="#o" x="331" y="272"/><use href="#b" x="401" y="287"/><use href="#b" x="383" y="230"/><use href="#o" x="350" y="236"/><use href="#b" x="333" y="190"/><use href="#b" x="372" y="229"/><use href="#b" x="371" y="254"/><use href="#b" x="452" y="333"/><use href="#o" x="398" y="305"/><use href="#b" x="393" y="296"/><use href="#o" x="323" y="251"/><use href="#o" x="323" y="231"/><use href="#b" x="347" y="138"/><use href="#o" x="299" y="230"/><use href="#o" x="362" y="231"/><use href="#b" x="358" y="206"/><use href="#o" x="391" y="332"/><use href="#o" x="378" y="268"/><use href="#b" x="372" y="254"/><use href="#b" x="401" y="293"/><use href="#b" x="386" y="277"/><use href="#b" x="370" y="331"/><use href="#b" x="394" y="286"/><use href="#b" x="337" y="214"/><use href="#o" x="342" y="266"/><use href="#o" x="338" y="263"/><use href="#o" x="362" y="259"/><use href="#o" x="621" y="333"/><use href="#b" x="527" y="301"/><use href="#o" x="364" y="271"/><use href="#b" x="325" y="217"/><use href="#b" x="345" y="278"/><use href="#b" x="345" y="258"/><use href="#b" x="398" y="269"/><use href="#o" x="361" y="209"/><use href="#o" x="375" y="216"/><use href="#b" x="391" y="239"/><use href="#o" x="335" y="149"/><use href="#o" x="359" y="266"/><use href="#b" x="371" y="301"/><use href="#b" x="366" y="227"/><use href="#b" x="394" y="297"/><use href="#o" x="452" y="301"/><use href="#o" x="335" y="174"/><use href="#b" x="412" y="296"/><use href="#o" x="442" y="295"/><use href="#b" x="324" y="167"/><use href="#b" x="424" y="303"/><use href="#b" x="329" y="333"/><use href="#o" x="387" y="266"/><use href="#o" x="71" y="334"/><use href="#b" x="384" y="296"/><use href="#o" x="424" y="305"/><use href="#b" x="325" y="199"/><use href="#b" x="344" y="186"/><use href="#b" x="376" y="283"/><use href="#b" x="333" y="167"/><use href="#b" x="409" y="287"/><use href="#o" x="365" y="208"/><use href="#b" x="338" y="167"/><use href="#o" x="358" y="268"/><use href="#b" x="513" y="330"/><use href="#b" x="531" y="335"/><use href="#o" x="328" y="207"/><use href="#b" x="378" y="237"/><use href="#o" x="317" y="251"/><use href="#b" x="333" y="211"/><use href="#b" x="389" y="295"/><use href="#b" x="400" y="276"/><use href="#b" x="335" y="193"/><use href="#o" x="356" y="250"/><use href="#b" x="407" y="274"/><use href="#b" x="431" y="291"/><use href="#o" x="345" y="195"/><use href="#b" x="384" y="236"/><use href="#b" x="420" y="289"/><use href="#b" x="368" y="210"/><use href="#b" x="355" y="258"/><use href="#o" x="305" y="281"/><use href="#b" x="402" y="292"/><use href="#b" x="373" y="224"/><use href="#o" x="365" y="214"/><use href="#b" x="422" y="295"/><use href="#o" x="327" y="232"/><use href="#b" x="422" y="293"/><use href="#b" x="381" y="246"/><use href="#o" x="520" y="331"/><use href="#o" x="358" y="247"/><use href="#o" x="362" y="275"/><use href="#b" x="336" y="180"/><use href="#o" x="399" y="254"/><use href="#b" x="325" y="183"/><use href="#b" x="400" y="242"/><use href="#b" x="292" y="139"/><use href="#o" x="375" y="180"/><use href="#o" x="390" y="230"/><use href="#b" x="397" y="299"/><use href="#o" x="383" y="288"/><use href="#b" x="315" y="174"/><use href="#o" x="363" y="261"/><use href="#b" x="356" y="329"/><use href="#o" x="344" y="222"/><use href="#b" x="389" y="255"/><use href="#o" x="299" y="334"/><use href="#b" x="419" y="330"/><use href="#o" x="381" y="266"/><use href="#b" x="255" y="215"/><use href="#o" x="348" y="204"/><use href="#o" x="455" y="307"/><use href="#o" x="289" y="245"/><use href="#o" x="367" y="238"/><use href="#o" x="371" y="174"/><use href="#o" x="346" y="326"/><use href="#b" x="328" y="159"/><use href="#b" x="444" y="302"/><use href="#b" x="329" y="200"/><use href="#o" x="452" y="299"/><use href="#b" x="441" y="333"/><use href="#b" x="374" y="284"/><use href="#o" x="329" y="229"/><use href="#b" x="413" y="277"/><use href="#b" x="423" y="296"/><use href="#o" x="349" y="267"/><use href="#b" x="400" y="278"/><use href="#b" x="369" y="315"/><use href="#o" x="347" y="218"/><use href="#b" x="364" y="235"/><use href="#b" x="408" y="302"/><use href="#o" x="340" y="124"/><use href="#o" x="379" y="266"/><use href="#o" x="274" y="236"/><use href="#b" x="416" y="298"/><use href="#b" x="404" y="244"/><use href="#b" x="415" y="299"/><use href="#o" x="427" y="330"/><use href="#o" x="363" y="246"/><use href="#b" x="417" y="292"/><use href="#o" x="331" y="276"/><use href="#o" x="364" y="209"/><use href="#b" x="332" y="177"/><use href="#b" x="404" y="271"/><use href="#b" x="358" y="205"/><use href="#o" x="350" y="216"/><use href="#o" x="459" y="333"/><use href="#b" x="347" y="192"/><use href="#o" x="280" y="160"/><use href="#b" x="407" y="296"/><use href="#o" x="381" y="298"/><use href="#b" x="451" y="300"/><use href="#b" x="394" y="300"/><use href="#o" x="339" y="191"/><use href="#b" x="401" y="274"/><use href="#o" x="348" y="279"/><use href="#b" x="412" y="274"/><use href="#b" x="377" y="289"/><use href="#b" x="295" y="270"/><use href="#o" x="336" y="188"/><use href="#o" x="362" y="267"/><use href="#o" x="352" y="241"/><use href="#b" x="353" y="258"/><use href="#b" x="350" y="212"/><use href="#b" x="417" y="286"/><use href="#b" x="399" y="303"/><use href="#b" x="402" y="291"/><use href="#o" x="157" y="334"/><use href="#o" x="382" y="257"/><use href="#b" x="356" y="221"/><use href="#o" x="426" y="235"/><use href="#o" x="679" y="334"/><use href="#b" x="392" y="298"/><use href="#b" x="419" y="292"/><use href="#o" x="406" y="303"/><use href="#b" x="322" y="101"/><use href="#o" x="349" y="189"/><use href="#b" x="330" y="250"/><use href="#o" x="383" y="269"/><use href="#b" x="361" y="245"/><use href="#o" x="247" y="335"/><use href="#o" x="385" y="292"/><use href="#o" x="385" y="283"/><use href="#b" x="338" y="144"/><use href="#b" x="336" y="246"/><use href="#o" x="380" y="333"/><use href="#b" x="377" y="266"/><use href="#o" x="391" y="252"/><use href="#o" x="288" y="326"/><use href="#b" x="399" y="265"/><use href="#b" x="392" y="233"/><use href="#o" x="375" y="271"/><use href="#o" x="187" y="326"/><use href="#o" x="334" y="166"/><use href="#b" x="360" y="237"/><use href="#b" x="550" y="330"/><use href="#b" x="144" y="334"/><use href="#b" x="356" y="243"/><use href="#b" x="331" y="179"/><use href="#o" x="326" y="235"/><use href="#b" x="380" y="253"/><use href="#b" x="91" y="333"/><use href="#o" x="335" y="191"/><use href="#o" x="416" y="264"/><use href="#b" x="419" y="293"/><use href="#b" x="401" y="234"/><use href="#o" x="353" y="217"/><use href="#b" x="439" y="304"/><use href="#b" x="395" y="298"/><use href="#b" x="340" y="197"/><use href="#b" x="336" y="184"/><use href="#b" x="364" y="153"/><use href="#o" x="384" y="297"/><use href="#b" x="341" y="237"/><use href="#b" x="391" y="244"/><use href="#o" x="551" y="332"/><use href="#b" x="377" y="223"/><use href="#o" x="308" y="273"/><use href="#o" x="349" y="232"/><use href="#b" x="420" y="303"/><use href="#b" x="415" y="276"/><use href="#o" x="414" y="233"/><use href="#o" x="422" y="324"/><use href="#b" x="310" y="221"/><use href="#b" x="338" y="278"/><use href="#o" x="305" y="233"/><use href="#o" x="387" y="309"/><use href="#b" x="380" y="232"/><use href="#b" x="365" y="230"/><use href="#o" x="366" y="310"/><use href="#b" x="417" y="291"/><use href="#o" x="385" y="228"/><use href="#b" x="379" y="264"/><use href="#o" x="345" y="265"/><use href="#b" x="383" y="265"/><use href="#o" x="361" y="280"/><use href="#o" x="336" y="133"/><use href="#b" x="403" y="274"/><use href="#o" x="332" y="213"/><use href="#b" x="392" y="247"/><use href="#b" x="406" y="281"/><use href="#b" x="410" y="272"/><use href="#b" x="434" y="330"/><use href="#o" x="342" y="196"/><use href="#b" x="335" y="174"/><use href="#b" x="415" y="288"/><use href="#o" x="318" y="272"/><use href="#b" x="360" y="203"/><use href="#b" x="421" y="300"/><use href="#o" x="448" y="292"/><use href="#b" x="350" y="236"/><use href="#b" x="347" y="223"/><use href="#o" x="542" y="298"/><use href="#b" x="366" y="240"/><use href="#b" x="399" y="293"/><use href="#o" x="315" y="214"/><use href="#b" x="358" y="250"/><use href="#o" x="330" y="161"/><use href="#b" x="446" y="301"/><use href="#b" x="333" y="158"/><use href="#o" x="345" y="254"/><use href="#b" x="342" y="233"/><use href="#o" x="354" y="209"/><use href="#o" x="341" y="279"/><use href="#o" x="307" y="334"/><use href="#o" x="412" y="327"/><use href="#o" x="351" y="233"/><use href="#b" x="324" y="286"/><use href="#b" x="382" y="248"/><use href="#b" x="418" y="278"/><use href="#b" x="341" y="198"/><use href="#b" x="345" y="196"/><use href="#o" x="114" y="331"/><use href="#b" x="390" y="254"/><use href="#b" x="329" y="269"/><use href="#b" x="410" y="274"/><use href="#b" x="225" y="332"/><use href="#b" x="403" y="267"/><use href="#b" x="331" y="159"/><use href="#b" x="351" y="322"/><use href="#o" x="339" y="204"/><use href="#b" x="445" y="312"/><use href="#o" x="126" y="334"/><use href="#o" x="360" y="306"/><use href="#b" x="388" y="292"/><use href="#b" x="342" y="208"/><use href="#o" x="376" y="231"/><use href="#b" x="321" y="300"/><use href="#o" x="324" y="205"/><use href="#b" x="456" y="316"/><use href="#b" x="361" y="271"/><use href="#o" x="385" y="275"/><use href="#o" x="325" y="173"/><use href="#b" x="370" y="309"/><use href="#b" x="405" y="297"/><use href="#o" x="452" y="298"/><use href="#b" x="411" y="237"/><use href="#b" x="373" y="240"/><use href="#o" x="345" y="242"/><use href="#b" x="343" y="200"/><use href="#o" x="355" y="203"/><use href="#b" x="407" y="287"/><use href="#b" x="355" y="222"/><use href="#o" x="386" y="297"/><use href="#o" x="370" y="260"/><use href="#b" x="398" y="236"/><use href="#b" x="317" y="206"/><use href="#b" x="399" y="300"/><use href="#b" x="0" y="335"/><use href="#b" x="399" y="261"/><use href="#b" x="435" y="304"/><use href="#o" x="327" y="189"/><use href="#o" x="386" y="296"/><use href="#o" x="348" y="232"/><use href="#b" x="436" y="300"/><use href="#o" x="458" y="304"/><use href="#o" x="342" y="252"/><use href="#b" x="381" y="274"/><use href="#o" x="318" y="334"/><use href="#b" x="414" y="278"/><use href="#o" x="339" y="192"/><use href="#b" x="356" y="240"/><use href="#b" x="395" y="264"/><use href="#o" x="324" y="281"/><use href="#b" x="405" y="293"/><use href="#o" x="465" y="287"/><use href="#b" x="343" y="230"/><use href="#o" x="363" y="247"/><use href="#o" x="329" y="232"/><use href="#o" x="387" y="287"/><use href="#o" x="433" y="330"/><use href="#b" x="415" y="272"/><use href="#o" x="375" y="176"/><use href="#o" x="343" y="130"/><use href="#o" x="420" y="328"/><use href="#b" x="481" y="328"/><use href="#o" x="331" y="224"/><use href="#b" x="404" y="301"/><use href="#o" x="402" y="245"/><use href="#b" x="414" y="289"/><use href="#o" x="480" y="331"/><use href="#o" x="323" y="284"/><use href="#o" x="341" y="274"/><use href="#o" x="384" y="242"/><use href="#o" x="419" y="278"/><use href="#b" x="391" y="262"/><use href="#o" x="342" y="192"/><use href="#b" x="359" y="328"/><use href="#b" x="300" y="250"/><use href="#o" x="339" y="265"/><use href="#o" x="2" y="335"/><use href="#o" x="330" y="248"/><use href="#b" x="359" y="236"/><use href="#b" x="352" y="211"/><use href="#b" x="406" y="266"/><use href="#o" x="353" y="255"/><use href="#b" x="339" y="224"/><use href="#o" x="307" y="253"/><use href="#b" x="395" y="245"/><use href="#o" x="303" y="239"/><use href="#b" x="343" y="204"/><use href="#b" x="548" y="332"/><use href="#b" x="125" y="332"/><use href="#b" x="366" y="268"/><use href="#b" x="343" y="205"/><use href="#o" x="361" y="245"/><use href="#b" x="392" y="297"/><use href="#b" x="358" y="227"/><use href="#b" x="387" y="246"/><use href="#b" x="404" y="329"/><use href="#o" x="317" y="265"/><use href="#b" x="399" y="285"/><use href="#o" x="365" y="211"/><use href="#b" x="441" y="300"/><use href="#b" x="353" y="227"/><use href="#o" x="365" y="200"/><use href="#b" x="390" y="276"/><use href="#o" x="319" y="290"/><use href="#b" x="338" y="246"/><use href="#o" x="549" y="331"/><use href="#b" x="432" y="303"/><use href="#b" x="351" y="213"/><use href="#o" x="373" y="250"/><use href="#b" x="416" y="293"/><use href="#b" x="392" y="299"/><use href="#b" x="274" y="166"/><use href="#o" x="447" y="299"/><use href="#b" x="298" y="281"/><use href="#o" x="340" y="226"/><use href="#b" x="482" y="294"/><use href="#o" x="305" y="218"/><use href="#b" x="363" y="216"/><use href="#o" x="347" y="265"/><use href="#b" x="406" y="267"/><use href="#b" x="453" y="304"/><use href="#b" x="376" y="234"/><use href="#o" x="332" y="209"/><use href="#o" x="285" y="304"/><use href="#b" x="342" y="254"/><use href="#b" x="351" y="227"/><use href="#b" x="378" y="268"/><use href="#o" x="372" y="186"/><use href="#b" x="401" y="283"/><use href="#o" x="325" y="319"/><use href="#b" x="352" y="222"/><use href="#b" x="204" y="333"/><use href="#b" x="445" y="303"/><use href="#o" x="311" y="219"/><use href="#o" x="374" y="205"/><use href="#o" x="359" y="218"/><use href="#b" x="412" y="297"/><use href="#o" x="492" y="334"/><use href="#b" x="414" y="264"/><use href="#b" x="409" y="266"/><use href="#o" x="345" y="215"/><use href="#o" x="447" y="241"/><use href="#b" x="338" y="245"/><use href="#b" x="351" y="256"/><use href="#o" x="382" y="269"/><use href="#o" x="534" y="332"/><use href="#o" x="313" y="190"/><use href="#o" x="348" y="236"/><use href="#o" x="312" y="274"/><use href="#b" x="396" y="285"/><use href="#b" x="421" y="302"/><use href="#o" x="363" y="216"/><use href="#b" x="352" y="283"/><use href="#o" x="455" y="300"/><use href="#b" x="328" y="177"/><use href="#b" x="374" y="274"/><use href="#b" x="400" y="298"/><use href="#o" x="354" y="283"/><use href="#b" x="339" y="281"/><use href="#o" x="340" y="185"/><use href="#b" x="358" y="223"/><use href="#o" x="487" y="334"/><use href="#b" x="317" y="192"/><use href="#o" x="346" y="239"/><use href="#b" x="427" y="297"/><use href="#o" x="382" y="273"/><use href="#b" x="335" y="172"/><use href="#o" x="350" y="331"/><use href="#o" x="337" y="240"/><use href="#b" x="331" y="295"/><use href="#b" x="398" y="332"/><use href="#o" x="353" y="200"/><use href="#b" x="338" y="192"/><use href="#o" x="383" y="279"/><use href="#o" x="425" y="305"/><use href="#b" x="395" y="233"/><use href="#o" x="370" y="228"/><use href="#b" x="315" y="183"/><use href="#o" x="322" y="219"/><use href="#b" x="357" y="225"/><use href="#o" x="373" y="254"/><use href="#o" x="315" y="265"/><use href="#o" x="312" y="136"/><use href="#o" x="348" y="266"/><use href="#b" x="382" y="257"/><use href="#o" x="338" y="257"/><use href="#b" x="654" y="301"/><use href="#b" x="356" y="241"/><use href="#o" x="375" y="308"/><use href="#b" x="375" y="213"/><use href="#o" x="351" y="255"/><use href="#b" x="424" y="286"/><use href="#b" x="422" y="294"/><use href="#b" x="395" y="244"/><use href="#b" x="392" y="287"/><use href="#b" x="392" y="279"/><use href="#o" x="341" y="195"/><use href="#o" x="404" y="303"/><use href="#o" x="360" y="221"/><use href="#o" x="87" y="333"/><use href="#o" x="348" y="317"/><use href="#b" x="397" y="268"/><use href="#o" x="455" y="334"/><use href="#b" x="395" y="287"/><use href="#b" x="409" y="285"/><use href="#b" x="338" y="127"/><use href="#o" x="341" y="265"/><use href="#o" x="367" y="202"/><use href="#o" x="347" y="195"/><use href="#b" x="525" y="293"/><use href="#o" x="354" y="260"/><use href="#o" x="303" y="306"/><use href="#b" x="331" y="169"/><use href="#b" x="360" y="282"/><use href="#b" x="393" y="265"/><use href="#b" x="391" y="251"/><use href="#b" x="407" y="259"/><use href="#o" x="419" y="280"/><use href="#b" x="384" y="247"/><use href="#o" x="312" y="268"/><use href="#o" x="370" y="271"/><use href="#b" x="344" y="168"/><use href="#b" x="409" y="299"/><use href="#b" x="365" y="265"/><use href="#b" x="355" y="227"/><use href="#o" x="310" y="247"/><use href="#o" x="382" y="280"/><use href="#b" x="371" y="244"/><use href="#o" x="477" y="303"/><use href="#o" x="339" y="201"/><use href="#o" x="330" y="278"/><use href="#o" x="397" y="258"/><use href="#o" x="576" y="334"/><use href="#o" x="336" y="226"/><use href="#b" x="326" y="89"/><use href="#o" x="378" y="266"/><use href="#o" x="352" y="217"/><use href="#b" x="413" y="297"/><use href="#b" x="396" y="268"/><use href="#b" x="336" y="204"/><use href="#b" x="409" y="284"/><use href="#o" x="359" y="256"/><use href="#o" x="384" y="244"/><use href="#b" x="397" y="291"/><use href="#o" x="333" y="167"/><use href="#b" x="403" y="277"/><use href="#b" x="453" y="301"/><use href="#b" x="383" y="291"/><use href="#b" x="408" y="337"/><use href="#b" x="377" y="320"/><use href="#b" x="407" y="288"/><use href="#o" x="332" y="284"/><use href="#b" x="397" y="269"/><use href="#o" x="385" y="290"/><use href="#b" x="366" y="222"/><use href="#b" x="418" y="298"/><use href="#b" x="501" y="275"/><use href="#b" x="398" y="282"/><use href="#b" x="380" y="216"/><use href="#o" x="348" y="264"/><use href="#b" x="414" y="285"/><use href="#b" x="356" y="218"/><use href="#b" x="341" y="189"/><use href="#o" x="435" y="242"/><use href="#b" x="407" y="271"/><use href="#b" x="381" y="234"/><use href="#b" x="394" y="238"/><use href="#o" x="331" y="291"/><use href="#o" x="355" y="260"/><use href="#b" x="348" y="206"/><use href="#o" x="339" y="244"/><use href="#b" x="429" y="302"/><use href="#b" x="53" y="334"/><use href="#b" x="415" y="295"/><use href="#o" x="354" y="267"/><use href="#o" x="438" y="307"/><use href="#o" x="375" y="217"/><use href="#b" x="358" y="212"/><use href="#b" x="349" y="267"/><use href="#o" x="439" y="326"/><use href="#b" x="391" y="285"/><use href="#o" x="192" y="332"/><use href="#b" x="401" y="271"/><use href="#b" x="337" y="210"/><use href="#b" x="315" y="334"/><use href="#b" x="328" y="175"/><use href="#b" x="357" y="215"/><use href="#b" x="314" y="175"/><use href="#o" x="349" y="264"/><use href="#o" x="313" y="181"/><use href="#b" x="377" y="240"/><use href="#o" x="672" y="333"/><use href="#b" x="374" y="288"/><use href="#b" x="335" y="123"/><use href="#b" x="409" y="275"/><use href="#b" x="386" y="224"/><use href="#b" x="379" y="259"/><use href="#b" x="403" y="300"/><use href="#o" x="323" y="335"/><use href="#b" x="377" y="259"/><use href="#o" x="360" y="230"/><use href="#o" x="372" y="196"/><use href="#o" x="385" y="266"/><use href="#o" x="337" y="225"/><use href="#b" x="422" y="296"/><use href="#o" x="395" y="303"/><use href="#o" x="241" y="334"/><use href="#b" x="326" y="311"/><use href="#o" x="30" y="334"/><use href="#b" x="290" y="212"/><use href="#b" x="398" y="326"/><use href="#o" x="351" y="195"/><use href="#o" x="308" y="195"/><use href="#b" x="323" y="215"/><use href="#b" x="320" y="194"/><use href="#o" x="419" y="303"/><use href="#b" x="409" y="290"/><use href="#o" x="381" y="289"/><use href="#o" x="337" y="208"/><use href="#o" x="342" y="190"/><use href="#b" x="393" y="300"/><use href="#b" x="381" y="231"/><use href="#b" x="385" y="255"/><use href="#o" x="323" y="272"/><use href="#o" x="319" y="293"/><use href="#o" x="367" y="203"/><use href="#b" x="350" y="191"/><use href="#o" x="376" y="279"/><use href="#b" x="406" y="283"/><use href="#o" x="333" y="209"/><use href="#b" x="376" y="261"/><use href="#b" x="379" y="234"/><use href="#b" x="371" y="242"/><use href="#o" x="351" y="274"/><use href="#o" x="339" y="333"/><use href="#o" x="341" y="168"/><use href="#o" x="303" y="270"/><use href="#b" x="392" y="293"/><use href="#o" x="343" y="235"/><use href="#o" x="28" y="334"/><use href="#o" x="364" y="222"/><use href="#b" x="383" y="258"/><use href="#b" x="417" y="281"/><use href="#o" x="379" y="280"/><use href="#b" x="398" y="264"/><use href="#o" x="321" y="242"/><use href="#b" x="380" y="239"/><use href="#b" x="316" y="262"/><use href="#b" x="342" y="187"/><use href="#b" x="376" y="266"/><use href="#o" x="539" y="333"/><use href="#b" x="347" y="197"/><use href="#b" x="356" y="184"/><use href="#b" x="341" y="201"/><use href="#b" x="390" y="289"/><use href="#b" x="701" y="334"/><use href="#o" x="355" y="225"/><use href="#o" x="395" y="301"/><use href="#b" x="385" y="299"/><use href="#o" x="306" y="261"/><use href="#b" x="450" y="331"/><use href="#b" x="428" y="293"/><use href="#o" x="361" y="325"/><use href="#b" x="715" y="331"/><use href="#o" x="382" y="334"/><use href="#b" x="329" y="180"/><use href="#o" x="370" y="254"/><use href="#b" x="405" y="295"/><use href="#o" x="408" y="307"/><use href="#o" x="336" y="236"/><use href="#o" x="437" y="306"/><use href="#b" x="310" y="250"/><use href="#b" x="365" y="210"/><use href="#b" x="414" y="279"/><use href="#b" x="382" y="240"/><use href="#o" x="273" y="237"/><use href="#b" x="379" y="231"/><use href="#o" x="400" y="256"/><use href="#o" x="345" y="239"/><use href="#b" x="394" y="275"/><use href="#o" x="357" y="227"/><use href="#o" x="317" y="259"/><use href="#b" x="372" y="242"/><use href="#b" x="330" y="202"/><use href="#b" x="363" y="263"/><use href="#b" x="399" y="264"/><use href="#o" x="351" y="240"/><use href="#b" x="323" y="169"/><use href="#o" x="334" y="197"/><use href="#b" x="408" y="266"/><use href="#o" x="371" y="213"/><use href="#b" x="388" y="229"/><use href="#b" x="414" y="301"/><use href="#o" x="334" y="258"/><use href="#b" x="426" y="296"/><use href="#b" x="394" y="266"/><use href="#b" x="405" y="237"/><use href="#o" x="314" y="263"/><use href="#b" x="389" y="287"/><use href="#o" x="376" y="272"/><use href="#o" x="351" y="200"/><use href="#b" x="305" y="258"/><use href="#o" x="379" y="290"/><use href="#o" x="364" y="238"/><use href="#b" x="383" y="242"/><use href="#o" x="334" y="334"/><use href="#b" x="329" y="169"/><use href="#b" x="406" y="271"/><use href="#b" x="391" y="266"/><use href="#b" x="392" y="223"/><use href="#b" x="361" y="256"/><use href="#b" x="397" y="292"/><use href="#o" x="348" y="246"/><use href="#b" x="334" y="272"/><use href="#b" x="332" y="251"/><use href="#b" x="349" y="258"/><use href="#o" x="364" y="248"/><use href="#o" x="306" y="258"/><use href="#b" x="390" y="297"/><use href="#b" x="394" y="261"/><use href="#o" x="317" y="242"/><use href="#b" x="392" y="249"/><use href="#b" x="430" y="301"/><use href="#b" x="342" y="269"/><use href="#b" x="507" y="334"/><use href="#b" x="281" y="277"/><use href="#o" x="407" y="334"/><use href="#o" x="349" y="237"/><use href="#b" x="329" y="281"/><use href="#o" x="362" y="192"/><use href="#b" x="350" y="193"/><use href="#b" x="368" y="224"/><use href="#o" x="341" y="272"/><use href="#b" x="324" y="332"/><use href="#o" x="368" y="277"/><use href="#o" x="356" y="207"/><use href="#o" x="378" y="278"/><use href="#b" x="333" y="261"/><use href="#b" x="321" y="94"/><use href="#o" x="384" y="258"/><use href="#o" x="337" y="213"/><use href="#b" x="410" y="270"/><use href="#b" x="384" y="237"/><use href="#b" x="345" y="215"/><use href="#b" x="349" y="249"/><use href="#o" x="377" y="236"/><use href="#b" x="402" y="285"/><use href="#b" x="267" y="333"/><use href="#o" x="346" y="254"/><use href="#o" x="453" y="301"/><use href="#b" x="382" y="270"/><use href="#o" x="323" y="283"/><use href="#b" x="409" y="268"/><use href="#o" x="418" y="273"/><use href="#o" x="344" y="219"/><use href="#b" x="380" y="244"/><use href="#b" x="350" y="250"/><use href="#b" x="466" y="304"/><use href="#b" x="364" y="261"/><use href="#b" x="472" y="281"/><use href="#b" x="333" y="188"/><use href="#o" x="289" y="334"/><use href="#b" x="415" y="289"/><use href="#b" x="378" y="270"/><use href="#o" x="355" y="195"/><use href="#b" x="229" y="334"/><use href="#b" x="367" y="253"/><use href="#b" x="393" y="255"/><use href="#b" x="383" y="244"/><use href="#b" x="378" y="228"/><use href="#b" x="343" y="237"/><use href="#b" x="329" y="177"/><use href="#b" x="397" y="267"/><use href="#b" x="328" y="172"/><use href="#b" x="420" y="283"/><use href="#b" x="390" y="275"/><use href="#o" x="50" y="334"/><use href="#o" x="419" y="240"/><use href="#b" x="392" y="280"/><use href="#b" x="619" y="335"/><use href="#b" x="327" y="161"/><use href="#b" x="333" y="170"/><use href="#o" x="361" y="237"/><use href="#o" x="357" y="239"/><use href="#o" x="328" y="208"/><use href="#b" x="448" y="306"/><use href="#o" x="394" y="244"/><use href="#b" x="355" y="220"/><use href="#b" x="394" y="256"/><use href="#b" x="392" y="294"/><use href="#o" x="322" y="204"/><use href="#b" x="310" y="259"/><use href="#b" x="436" y="312"/><use href="#o" x="505" y="297"/><use href="#o" x="278" y="268"/><use href="#b" x="357" y="213"/><use href="#b" x="501" y="300"/><use href="#b" x="360" y="223"/><use href="#o" x="329" y="199"/><use href="#o" x="325" y="271"/><use href="#b" x="394" y="270"/><use href="#o" x="381" y="279"/><use href="#o" x="414" y="305"/><use href="#b" x="389" y="245"/><use href="#o" x="148" y="334"/><use href="#b" x="377" y="269"/><use href="#o" x="359" y="262"/><use href="#b" x="402" y="262"/><use href="#b" x="395" y="280"/><use href="#o" x="375" y="230"/><use href="#b" x="356" y="263"/><use href="#b" x="377" y="204"/><use href="#b" x="411" y="296"/><use href="#b" x="332" y="194"/><use href="#o" x="328" y="150"/><use href="#b" x="449" y="296"/><use href="#b" x="399" y="234"/><use href="#o" x="332" y="189"/><use href="#b" x="238" y="317"/><use href="#b" x="393" y="256"/><use href="#b" x="401" y="295"/><use href="#o" x="385" y="327"/><use href="#b" x="408" y="299"/><use href="#b" x="429" y="305"/><use href="#b" x="408" y="263"/><use href="#b" x="419" y="300"/><use href="#o" x="388" y="254"/><use href="#b" x="427" y="293"/><use href="#b" x="314" y="271"/><use href="#b" x="345" y="222"/><use href="#o" x="280" y="216"/><use href="#o" x="329" y="270"/><use href="#o" x="341" y="237"/><use href="#b" x="378" y="277"/><use href="#o" x="333" y="184"/><use href="#b" x="417" y="295"/><use href="#b" x="403" y="281"/><use href="#o" x="506" y="326"/><use href="#b" x="383" y="276"/><use href="#o" x="150" y="333"/><use href="#b" x="331" y="182"/><use href="#b" x="403" y="272"/><use href="#b" x="398" y="267"/><use href="#b" x="425" y="327"/><use href="#b" x="415" y="278"/><use href="#o" x="308" y="308"/><use href="#b" x="346" y="191"/><use href="#o" x="332" y="270"/><use href="#b" x="430" y="303"/><use href="#o" x="422" y="278"/><use href="#b" x="421" y="290"/><use href="#o" x="346" y="190"/><use href="#b" x="371" y="215"/><use href="#b" x="438" y="300"/><use href="#b" x="379" y="279"/><use href="#b" x="406" y="285"/><use href="#o" x="369" y="233"/><use href="#o" x="303" y="258"/><use href="#b" x="334" y="218"/><use href="#b" x="360" y="258"/><use href="#o" x="450" y="297"/><use href="#b" x="392" y="255"/><use href="#b" x="320" y="171"/><use href="#b" x="398" y="240"/><use href="#o" x="382" y="268"/><use href="#b" x="396" y="300"/><use href="#b" x="395" y="285"/><use href="#o" x="376" y="296"/><use href="#o" x="354" y="269"/><use href="#o" x="384" y="274"/><use href="#b" x="352" y="204"/><use href="#o" x="343" y="266"/><use href="#o" x="351" y="172"/><use href="#b" x="399" y="280"/><use href="#o" x="276" y="261"/><use href="#o" x="399" y="245"/><use href="#b" x="361" y="219"/><use href="#o" x="335" y="230"/><use href="#b" x="681" y="334"/><use href="#b" x="360" y="194"/><use href="#b" x="390" y="293"/><use href="#b" x="397" y="282"/><use href="#o" x="381" y="278"/><use href="#b" x="436" y="301"/><use href="#b" x="390" y="292"/><use href="#b" x="359" y="227"/><use href="#o" x="328" y="264"/><use href="#b" x="356" y="199"/><use href="#b" x="345" y="217"/><use href="#o" x="292" y="327"/><use href="#b" x="360" y="328"/><use href="#o" x="361" y="263"/><use href="#b" x="372" y="255"/><use href="#o" x="454" y="299"/><use href="#o" x="119" y="334"/><use href="#b" x="423" y="288"/><use href="#b" x="387" y="266"/><use href="#o" x="353" y="246"/><use href="#o" x="496" y="297"/><use href="#b" x="347" y="210"/><use href="#b" x="369" y="227"/><use href="#b" x="365" y="206"/><use href="#o" x="324" y="192"/><use href="#b" x="395" y="276"/><use href="#b" x="463" y="294"/><use href="#o" x="332" y="184"/><use href="#o" x="530" y="329"/><use href="#o" x="358" y="210"/><use href="#b" x="340" y="193"/><use href="#b" x="384" y="228"/><use href="#b" x="394" y="229"/><use href="#o" x="369" y="210"/><use href="#o" x="436" y="331"/><use href="#o" x="349" y="210"/><use href="#b" x="330" y="166"/><use href="#o" x="333" y="252"/><use href="#b" x="391" y="276"/><use href="#o" x="389" y="242"/><use href="#o" x="343" y="274"/><use href="#o" x="397" y="257"/><use href="#b" x="335" y="204"/><use href="#o" x="331" y="159"/><use href="#b" x="415" y="277"/><use href="#b" x="427" y="312"/><use href="#b" x="416" y="278"/><use href="#o" x="394" y="261"/><use href="#b" x="410" y="287"/><use href="#o" x="357" y="247"/><use href="#b" x="382" y="291"/><use href="#b" x="403" y="263"/><use href="#o" x="350" y="270"/><use href="#b" x="323" y="186"/><use href="#b" x="401" y="253"/><use href="#o" x="378" y="249"/><use href="#b" x="406" y="272"/><use href="#o" x="381" y="295"/><use href="#o" x="433" y="306"/><use href="#b" x="351" y="140"/><use href="#o" x="340" y="189"/><use href="#o" x="386" y="231"/><use href="#o" x="351" y="190"/><use href="#b" x="354" y="313"/><use href="#o" x="446" y="306"/><use href="#b" x="360" y="232"/><use href="#b" x="424" y="298"/><use href="#b" x="354" y="206"/><use href="#b" x="364" y="215"/><use href="#b" x="396" y="286"/><use href="#b" x="402" y="259"/><use href="#o" x="374" y="286"/><use href="#o" x="372" y="256"/><use href="#b" x="328" y="191"/><use href="#b" x="362" y="140"/><use href="#b" x="340" y="248"/><use href="#o" x="318" y="201"/><use href="#o" x="355" y="267"/><use href="#b" x="326" y="208"/><use href="#b" x="407" y="285"/><use href="#b" x="348" y="262"/><use href="#b" x="314" y="231"/><use href="#b" x="342" y="179"/><use href="#o" x="308" y="262"/><use href="#b" x="331" y="165"/><use href="#o" x="327" y="204"/><use href="#o" x="340" y="252"/><use href="#b" x="399" y="267"/><use href="#o" x="332" y="250"/><use href="#b" x="360" y="264"/><use href="#b" x="398" y="271"/><use href="#b" x="349" y="191"/><use href="#b" x="390" y="248"/><use href="#b" x="383" y="241"/><use href="#b" x="389" y="239"/><use href="#b" x="405" y="298"/><use href="#b" x="387" y="247"/><use href="#o" x="455" y="309"/><use href="#o" x="341" y="227"/><use href="#b" x="383" y="248"/><use href="#o" x="347" y="286"/><use href="#b" x="354" y="242"/><use href="#b" x="145" y="334"/><use href="#o" x="345" y="246"/><use href="#o" x="346" y="168"/><use href="#b" x="287" y="218"/><use href="#o" x="412" y="308"/><use href="#o" x="283" y="189"/><use href="#b" x="363" y="208"/><use href="#b" x="360" y="252"/><use href="#b" x="278" y="229"/><use href="#b" x="348" y="213"/><use href="#o" x="349" y="245"/><use href="#o" x="363" y="255"/><use href="#b" x="330" y="170"/><use href="#b" x="370" y="290"/><use href="#b" x="381" y="257"/><use href="#b" x="419" y="299"/><use href="#o" x="323" y="147"/><use href="#b" x="355" y="263"/><use href="#b" x="391" y="259"/><use href="#o" x="305" y="153"/><use href="#b" x="369" y="233"/><use href="#o" x="386" y="232"/><use href="#b" x="421" y="288"/><use href="#b" x="395" y="290"/><use href="#b" x="324" y="197"/><use href="#b" x="338" y="201"/><use href="#b" x="391" y="286"/><use href="#b" x="405" y="244"/><use href="#b" x="399" y="282"/><use href="#o" x="337" y="261"/><use href="#o" x="329" y="249"/><use href="#b" x="345" y="204"/><use href="#o" x="438" y="328"/><use href="#b" x="314" y="254"/><use href="#b" x="385" y="246"/><use href="#b" x="388" y="242"/><use href="#o" x="357" y="241"/><use href="#b" x="391" y="328"/><use href="#b" x="368" y="263"/><use href="#b" x="404" y="307"/><use href="#b" x="401" y="243"/><use href="#o" x="111" y="333"/><use href="#b" x="397" y="279"/><use href="#b" x="350" y="207"/><use href="#o" x="393" y="333"/><use href="#b" x="376" y="210"/><use href="#b" x="370" y="240"/><use href="#o" x="362" y="225"/><use href="#o" x="364" y="205"/><use href="#o" x="422" y="277"/><use href="#o" x="383" y="252"/><use href="#b" x="380" y="230"/><use href="#b" x="366" y="259"/><use href="#b" x="373" y="229"/><use href="#b" x="226" y="329"/><use href="#b" x="340" y="141"/><use href="#o" x="332" y="179"/><use href="#b" x="397" y="325"/><use href="#o" x="389" y="246"/><use href="#b" x="319" y="332"/><use href="#b" x="390" y="219"/><use href="#o" x="441" y="307"/><use href="#b" x="357" y="220"/><use href="#o" x="337" y="178"/><use href="#o" x="305" y="234"/><use href="#o" x="406" y="255"/><use href="#b" x="408" y="272"/><use href="#b" x="412" y="279"/><use href="#b" x="385" y="234"/><use href="#b" x="314" y="143"/><use href="#b" x="356" y="261"/><use href="#b" x="413" y="273"/><use href="#o" x="295" y="257"/><use href="#o" x="349" y="216"/><use href="#b" x="412" y="298"/><use href="#o" x="325" y="218"/><use href="#b" x="346" y="173"/><use href="#o" x="416" y="329"/><use href="#b" x="42" y="334"/><use href="#b" x="356" y="214"/><use href="#b" x="392" y="283"/><use href="#b" x="402" y="269"/><use href="#o" x="293" y="239"/><use href="#o" x="332" y="257"/><use href="#b" x="384" y="280"/><use href="#b" x="371" y="235"/><use href="#o" x="310" y="198"/><use href="#b" x="360" y="236"/><use href="#o" x="391" y="265"/><use href="#b" x="360" y="261"/><use href="#o" x="338" y="190"/><use href="#b" x="335" y="201"/><use href="#b" x="323" y="196"/><use href="#o" x="334" y="172"/><use href="#o" x="252" y="335"/><use href="#b" x="274" y="286"/><use href="#b" x="437" y="298"/><use href="#b" x="327" y="163"/><use href="#o" x="332" y="153"/><use href="#b" x="369" y="319"/><use href="#b" x="391" y="253"/><use href="#b" x="404" y="265"/><use href="#o" x="339" y="183"/><use href="#o" x="645" y="333"/><use href="#o" x="321" y="265"/><use href="#b" x="396" y="221"/><use href="#o" x="378" y="224"/><use href="#b" x="449" y="329"/><use href="#b" x="363" y="281"/><use href="#b" x="328" y="224"/><use href="#o" x="691" y="333"/><use href="#o" x="299" y="257"/><use href="#b" x="369" y="201"/><use href="#o" x="357" y="223"/><use href="#b" x="376" y="256"/><use href="#b" x="381" y="254"/><use href="#o" x="248" y="323"/><use href="#b" x="402" y="275"/><use href="#b" x="320" y="210"/><use href="#b" x="358" y="119"/><use href="#o" x="426" y="287"/><use href="#b" x="357" y="262"/><use href="#b" x="448" y="300"/><use href="#b" x="417" y="294"/><use href="#b" x="388" y="308"/><use href="#b" x="334" y="190"/><use href="#o" x="399" y="320"/><use href="#b" x="332" y="201"/><use href="#b" x="366" y="264"/><use href="#b" x="409" y="295"/><use href="#b" x="357" y="211"/><use href="#b" x="398" y="277"/><use href="#o" x="336" y="170"/><use href="#b" x="413" y="271"/><use href="#o" x="364" y="250"/><use href="#b" x="398" y="283"/><use href="#o" x="304" y="248"/><use href="#b" x="402" y="294"/><use href="#o" x="379" y="284"/><use href="#b" x="390" y="273"/><use href="#b" x="439" y="300"/><use href="#o" x="306" y="334"/><use href="#o" x="327" y="180"/><use href="#o" x="261" y="242"/><use href="#b" x="282" y="281"/><use href="#o" x="351" y="279"/><use href="#o" x="357" y="253"/><use href="#b" x="417" y="285"/><use href="#b" x="294" y="255"/><use href="#b" x="283" y="326"/><use href="#o" x="352" y="265"/><use href="#b" x="396" y="299"/><use href="#o" x="418" y="329"/><use href="#b" x="396" y="287"/><use href="#o" x="378" y="257"/><use href="#b" x="315" y="284"/><use href="#b" x="408" y="264"/><use href="#o" x="265" y="320"/><use href="#b" x="398" y="281"/><use href="#o" x="348" y="215"/><use href="#o" x="310" y="255"/><use href="#b" x="383" y="280"/><use href="#b" x="356" y="239"/><use href="#o" x="348" y="254"/><use href="#o" x="317" y="263"/><use href="#o" x="305" y="334"/><use href="#o" x="382" y="261"/><use href="#o" x="343" y="245"/><use href="#b" x="340" y="210"/><use href="#o" x="350" y="266"/><use href="#o" x="342" y="273"/><use href="#b" x="384" y="297"/><use href="#o" x="317" y="300"/><use href="#o" x="343" y="250"/><use href="#o" x="358" y="233"/><use href="#b" x="601" y="301"/><use href="#b" x="385" y="282"/><use href="#o" x="431" y="238"/><use href="#o" x="219" y="328"/><use href="#o" x="323" y="256"/><use href="#o" x="377" y="277"/><use href="#o" x="485" y="273"/><use href="#b" x="374" y="232"/><use href="#b" x="311" y="306"/><use href="#b" x="448" y="304"/><use href="#b" x="408" y="290"/><use href="#b" x="354" y="196"/><use href="#o" x="438" y="306"/><use href="#b" x="342" y="183"/><use href="#b" x="371" y="298"/><use href="#b" x="393" y="270"/><use href="#b" x="403" y="293"/><use href="#b" x="410" y="294"/><use href="#b" x="311" y="217"/><use href="#o" x="436" y="307"/><use href="#b" x="436" y="305"/><use href="#b" x="369" y="303"/><use href="#o" x="306" y="254"/><use href="#o" x="346" y="267"/><use href="#o" x="345" y="148"/><use href="#o" x="429" y="289"/><use href="#o" x="593" y="334"/><use href="#b" x="425" y="299"/><use href="#b" x="329" y="227"/><use href="#b" x="339" y="181"/><use href="#o" x="456" y="303"/><use href="#o" x="81" y="334"/><use href="#b" x="371" y="284"/><use href="#b" x="393" y="294"/><use href="#b" x="334" y="159"/><use href="#b" x="407" y="261"/><use href="#b" x="377" y="230"/><use href="#b" x="364" y="224"/><use href="#o" x="257" y="254"/><use href="#o" x="341" y="183"/><use href="#o" x="16" y="334"/><use href="#o" x="340" y="246"/><use href="#b" x="415" y="300"/><use href="#b" x="393" y="262"/><use href="#b" x="410" y="283"/><use href="#b" x="380" y="220"/><use href="#b" x="340" y="174"/><use href="#o" x="314" y="238"/><use href="#b" x="370" y="196"/><use href="#b" x="398" y="288"/><use href="#b" x="408" y="265"/><use href="#b" x="336" y="206"/><use href="#b" x="406" y="280"/><use href="#b" x="409" y="298"/><use href="#b" x="346" y="210"/><use href="#o" x="323" y="206"/><use href="#o" x="345" y="245"/><use href="#b" x="340" y="238"/><use href="#o" x="376" y="274"/><use href="#o" x="359" y="239"/><use href="#o" x="342" y="127"/><use href="#o" x="354" y="335"/><use href="#b" x="379" y="251"/><use href="#b" x="345" y="169"/><use href="#o" x="355" y="234"/><use href="#b" x="374" y="229"/><use href="#b" x="455" y="304"/><use href="#o" x="347" y="280"/><use href="#o" x="383" y="268"/><use href="#o" x="405" y="330"/><use href="#b" x="319" y="116"/><use href="#b" x="345" y="220"/><use href="#o" x="386" y="270"/><use href="#b" x="415" y="265"/><use href="#b" x="396" y="269"/><use href="#b" x="329" y="154"/><use href="#b" x="402" y="279"/><use href="#b" x="408" y="300"/><use href="#b" x="617" y="334"/><use href="#b" x="401" y="260"/><use href="#b" x="333" y="164"/><use href="#b" x="391" y="264"/><use href="#b" x="421" y="284"/><use href="#o" x="306" y="257"/><use href="#b" x="343" y="192"/><use href="#b" x="406" y="288"/><use href="#o" x="435" y="245"/><use href="#b" x="332" y="214"/><use href="#b" x="337" y="194"/><use href="#b" x="397" y="270"/><use href="#o" x="330" y="273"/><use href="#b" x="342" y="275"/><use href="#b" x="387" y="244"/><use href="#o" x="347" y="255"/><use href="#b" x="321" y="175"/><use href="#b" x="385" y="244"/><use href="#b" x="399" y="269"/><use href="#b" x="444" y="303"/><use href="#b" x="310" y="95"/><use href="#b" x="380" y="264"/><use href="#o" x="366" y="281"/><use href="#b" x="370" y="324"/><use href="#o" x="361" y="259"/><use href="#b" x="441" y="324"/><use href="#b" x="364" y="247"/><use href="#o" x="345" y="250"/><use href="#o" x="350" y="193"/><use href="#b" x="409" y="279"/><use href="#b" x="387" y="299"/><use href="#b" x="421" y="299"/><use href="#o" x="320" y="260"/><use href="#b" x="440" y="302"/><use href="#b" x="299" y="333"/><use href="#b" x="391" y="242"/><use href="#b" x="382" y="226"/><use href="#b" x="297" y="235"/><use href="#b" x="571" y="324"/><use href="#o" x="308" y="246"/><use href="#b" x="342" y="273"/><use href="#b" x="411" y="268"/><use href="#o" x="337" y="188"/><use href="#b" x="406" y="291"/><use href="#o" x="371" y="221"/><use href="#o" x="441" y="295"/><use href="#b" x="396" y="263"/><use href="#b" x="417" y="287"/><use href="#b" x="267" y="174"/><use href="#b" x="323" y="242"/><use href="#b" x="416" y="277"/><use href="#b" x="294" y="333"/><use href="#b" x="372" y="227"/><use href="#b" x="329" y="239"/><use href="#b" x="355" y="219"/><use href="#b" x="402" y="281"/><use href="#o" x="398" y="253"/><use href="#b" x="397" y="286"/><use href="#b" x="350" y="257"/><use href="#b" x="349" y="262"/><use href="#b" x="357" y="263"/><use href="#b" x="407" y="286"/><use href="#b" x="348" y="263"/><use href="#b" x="407" y="295"/><use href="#b" x="338" y="218"/><use href="#b" x="412" y="293"/><use href="#b" x="363" y="228"/><use href="#o" x="377" y="281"/><use href="#b" x="398" y="287"/><use href="#o" x="367" y="222"/><use href="#b" x="406" y="261"/><use href="#b" x="449" y="300"/><use href="#o" x="299" y="271"/><use href="#o" x="289" y="187"/><use href="#o" x="335" y="176"/><use href="#b" x="401" y="292"/><use href="#o" x="427" y="286"/><use href="#b" x="390" y="247"/><use href="#b" x="708" y="334"/><use href="#o" x="356" y="212"/><use href="#b" x="426" y="289"/><use href="#o" x="521" y="332"/><use href="#b" x="373" y="332"/><use href="#o" x="307" y="278"/><use href="#b" x="513" y="302"/><use href="#b" x="401" y="237"/><use href="#b" x="382" y="222"/><use href="#o" x="367" y="275"/><use href="#b" x="312" y="107"/><use href="#b" x="342" y="174"/><use href="#b" x="357" y="275"/><use href="#b" x="358" y="273"/><use href="#b" x="319" y="265"/><use href="#o" x="316" y="240"/><use href="#o" x="392" y="306"/><use href="#b" x="348" y="279"/><use href="#b" x="376" y="272"/><use href="#b" x="370" y="336"/><use href="#b" x="396" y="306"/><use href="#o" x="391" y="260"/><use href="#b" x="366" y="237"/><use href="#b" x="337" y="170"/><use href="#b" x="343" y="185"/><use href="#b" x="299" y="329"/><use href="#b" x="384" y="240"/><use href="#b" x="341" y="176"/><use href="#b" x="414" y="251"/><use href="#o" x="350" y="229"/><use href="#o" x="360" y="331"/><use href="#o" x="371" y="257"/><use href="#b" x="666" y="332"/><use href="#o" x="343" y="280"/><use href="#o" x="335" y="167"/><use href="#o" x="384" y="264"/><use href="#o" x="399" y="259"/><use href="#o" x="300" y="259"/><use href="#b" x="403" y="271"/><use href="#b" x="425" y="296"/><use href="#o" x="457" y="305"/><use href="#o" x="367" y="260"/><use href="#o" x="311" y="272"/><use href="#b" x="410" y="299"/><use href="#b" x="351" y="258"/><use href="#o" x="409" y="328"/><use href="#o" x="363" y="195"/><use href="#b" x="395" y="279"/><use href="#b" x="398" y="263"/><use href="#b" x="304" y="275"/><use href="#b" x="388" y="245"/><use href="#b" x="364" y="269"/><use href="#o" x="370" y="282"/><use href="#o" x="357" y="266"/><use href="#o" x="362" y="254"/><use href="#o" x="361" y="333"/><use href="#o" x="395" y="259"/><use href="#b" x="332" y="211"/><use href="#o" x="388" y="237"/><use href="#b" x="392" y="276"/><use href="#b" x="382" y="284"/><use href="#b" x="362" y="242"/><use href="#o" x="393" y="326"/><use href="#b" x="363" y="230"/><use href="#o" x="320" y="277"/><use href="#o" x="325" y="304"/><use href="#o" x="350" y="259"/><use href="#o" x="377" y="286"/><use href="#o" x="351" y="312"/><use href="#o" x="421" y="282"/><use href="#b" x="440" y="301"/><use href="#o" x="361" y="233"/><use href="#b" x="398" y="245"/><use href="#b" x="348" y="171"/><use href="#o" x="309" y="236"/><use href="#b" x="400" y="268"/><use href="#b" x="318" y="177"/><use href="#b" x="324" y="224"/><use href="#b" x="351" y="205"/><use href="#b" x="431" y="310"/><use href="#b" x="321" y="245"/><use href="#b" x="411" y="281"/><use href="#o" x="328" y="261"/><use href="#b" x="336" y="148"/><use href="#b" x="427" y="291"/><use href="#o" x="384" y="248"/><use href="#b" x="432" y="299"/><use href="#o" x="382" y="294"/><use href="#b" x="418" y="283"/><use href="#o" x="316" y="333"/><use href="#o" x="363" y="225"/><use href="#b" x="352" y="194"/><use href="#o" x="359" y="207"/><use href="#b" x="393" y="238"/><use href="#o" x="275" y="311"/><use href="#b" x="438" y="301"/><use href="#b" x="367" y="261"/><use href="#b" x="349" y="207"/><use href="#b" x="383" y="243"/><use href="#b" x="398" y="242"/><use href="#o" x="343" y="261"/><use href="#b" x="338" y="193"/><use href="#b" x="376" y="225"/><use href="#b" x="333" y="181"/><use href="#b" x="458" y="295"/><use href="#b" x="411" y="293"/><use href="#o" x="379" y="267"/><use href="#b" x="403" y="289"/><use href="#b" x="447" y="301"/><use href="#b" x="338" y="203"/><use href="#o" x="412" y="235"/><use href="#o" x="394" y="331"/><use href="#o" x="367" y="333"/><use href="#b" x="381" y="296"/><use href="#o" x="669" y="334"/><use href="#b" x="327" y="168"/><use href="#b" x="320" y="178"/><use href="#b" x="326" y="286"/><use href="#b" x="392" y="285"/><use href="#b" x="359" y="192"/><use href="#o" x="455" y="306"/><use href="#b" x="340" y="189"/><use href="#b" x="390" y="290"/><use href="#b" x="372" y="191"/><use href="#b" x="391" y="281"/><use href="#b" x="333" y="229"/><use href="#o" x="352" y="240"/><use href="#b" x="357" y="264"/><use href="#o" x="487" y="329"/><use href="#o" x="351" y="265"/><use href="#b" x="357" y="219"/><use href="#o" x="345" y="194"/><use href="#b" x="426" y="301"/><use href="#b" x="399" y="283"/><use href="#b" x="398" y="274"/><use href="#b" x="415" y="281"/><use href="#b" x="414" y="284"/><use href="#b" x="331" y="318"/><use href="#b" x="335" y="225"/><use href="#o" x="361" y="216"/><use href="#o" x="345" y="227"/><use href="#o" x="351" y="268"/><use href="#b" x="393" y="272"/><use href="#b" x="328" y="247"/><use href="#o" x="360" y="312"/><use href="#b" x="339" y="185"/><use href="#o" x="386" y="275"/><use href="#o" x="95" y="332"/><use href="#b" x="396" y="283"/><use href="#o" x="319" y="305"/><use href="#b" x="406" y="270"/><use href="#o" x="338" y="178"/><use href="#o" x="421" y="265"/><use href="#o" x="345" y="252"/><use href="#b" x="381" y="248"/><use href="#b" x="224" y="277"/><use href="#o" x="337" y="227"/><use href="#b" x="411" y="299"/><use href="#b" x="396" y="264"/><use href="#b" x="392" y="263"/><use href="#b" x="372" y="261"/><use href="#o" x="352" y="249"/><use href="#b" x="441" y="304"/><use href="#o" x="384" y="259"/><use href="#b" x="314" y="214"/><use href="#b" x="384" y="223"/><use href="#o" x="297" y="258"/><use href="#b" x="368" y="306"/><use href="#b" x="606" y="334"/><use href="#b" x="408" y="278"/><use href="#b" x="407" y="277"/><use href="#o" x="383" y="250"/><use href="#o" x="315" y="255"/><use href="#b" x="391" y="302"/><use href="#b" x="358" y="244"/><use href="#b" x="384" y="260"/><use href="#b" x="325" y="187"/><use href="#b" x="404" y="279"/><use href="#b" x="417" y="297"/><use href="#o" x="316" y="229"/><use href="#o" x="322" y="322"/><use href="#o" x="392" y="301"/><use href="#b" x="415" y="275"/><use href="#b" x="361" y="216"/><use href="#o" x="83" y="334"/><use href="#b" x="419" y="302"/><use href="#b" x="354" y="214"/><use href="#b" x="352" y="276"/><use href="#b" x="380" y="257"/><use href="#o" x="232" y="327"/><use href="#o" x="324" y="233"/><use href="#o" x="416" y="303"/><use href="#o" x="314" y="283"/><use href="#o" x="437" y="328"/><use href="#b" x="361" y="218"/><use href="#b" x="406" y="323"/><use href="#o" x="369" y="241"/><use href="#b" x="438" y="332"/><use href="#b" x="415" y="269"/><use href="#b" x="347" y="238"/><use href="#b" x="342" y="186"/><use href="#o" x="372" y="288"/><use href="#b" x="335" y="250"/><use href="#b" x="417" y="296"/><use href="#b" x="334" y="171"/><use href="#o" x="354" y="302"/><use href="#b" x="396" y="284"/><use href="#o" x="458" y="273"/><use href="#b" x="430" y="294"/><use href="#b" x="370" y="224"/><use href="#o" x="376" y="219"/><use href="#b" x="323" y="275"/><use href="#b" x="375" y="209"/><use href="#o" x="414" y="250"/><use href="#b" x="413" y="286"/><use href="#o" x="310" y="246"/><use href="#b" x="382" y="232"/><use href="#o" x="449" y="289"/><use href="#b" x="438" y="341"/><use href="#b" x="357" y="222"/><use href="#b" x="369" y="223"/><use href="#b" x="375" y="224"/><use href="#o" x="374" y="269"/><use href="#o" x="352" y="223"/><use href="#b" x="397" y="298"/><use href="#b" x="367" y="230"/><use href="#b" x="438" y="302"/><use href="#b" x="371" y="209"/><use href="#o" x="334" y="268"/><use href="#o" x="463" y="278"/><use href="#b" x="300" y="220"/><use href="#o" x="354" y="249"/><use href="#b" x="344" y="193"/><use href="#o" x="354" y="207"/><use href="#o" x="365" y="333"/><use href="#b" x="289" y="171"/><use href="#b" x="331" y="191"/><use href="#b" x="419" y="285"/><use href="#o" x="455" y="328"/><use href="#b" x="347" y="212"/><use href="#o" x="357" y="201"/><use href="#b" x="388" y="219"/><use href="#o" x="355" y="276"/><use href="#b" x="333" y="243"/><use href="#o" x="379" y="271"/><use href="#b" x="344" y="233"/><use href="#b" x="382" y="274"/><use href="#b" x="412" y="268"/><use href="#b" x="271" y="141"/><use href="#b" x="413" y="275"/><use href="#b" x="342" y="219"/><use href="#o" x="228" y="331"/><use href="#b" x="433" y="304"/><use href="#b" x="375" y="208"/><use href="#b" x="244" y="332"/><use href="#b" x="375" y="216"/><use href="#o" x="368" y="231"/><use href="#b" x="367" y="273"/><use href="#b" x="410" y="298"/><use href="#b" x="433" y="305"/><use href="#o" x="365" y="245"/><use href="#o" x="296" y="269"/><use href="#o" x="345" y="187"/><use href="#b" x="429" y="293"/><use href="#o" x="333" y="269"/><use href="#o" x="392" y="256"/><use href="#b" x="391" y="296"/><use href="#o" x="335" y="209"/><use href="#b" x="349" y="219"/><use href="#o" x="376" y="256"/><use href="#b" x="327" y="245"/><use href="#b" x="333" y="165"/><use href="#b" x="380" y="287"/><use href="#o" x="450" y="305"/><use href="#b" x="507" y="286"/><use href="#o" x="346" y="199"/><use href="#o" x="432" y="327"/><use href="#b" x="68" y="334"/><use href="#b" x="332" y="301"/><use href="#b" x="383" y="239"/><use href="#o" x="584" y="332"/><use href="#b" x="315" y="168"/><use href="#b" x="346" y="262"/><use href="#b" x="321" y="237"/><use href="#o" x="377" y="329"/><use href="#o" x="279" y="250"/><use href="#b" x="372" y="332"/><use href="#b" x="388" y="252"/><use href="#b" x="363" y="260"/><use href="#b" x="413" y="288"/><use href="#o" x="360" y="250"/><use href="#b" x="545" y="334"/><use href="#o" x="307" y="249"/><use href="#b" x="380" y="288"/><use href="#b" x="353" y="186"/><use href="#b" x="415" y="280"/><use href="#o" x="350" y="228"/><use href="#o" x="312" y="267"/><use href="#b" x="398" y="331"/><use href="#b" x="428" y="302"/><use href="#b" x="370" y="332"/><use href="#b" x="389" y="243"/><use href="#o" x="386" y="279"/><use href="#b" x="402" y="280"/><use href="#b" x="407" y="266"/><use href="#b" x="382" y="229"/><use href="#o" x="333" y="166"/><use href="#o" x="352" y="262"/><use href="#b" x="364" y="190"/><use href="#b" x="350" y="197"/><use href="#b" x="323" y="137"/><use href="#b" x="385" y="208"/><use href="#o" x="351" y="236"/><use href="#o" x="331" y="244"/><use href="#b" x="351" y="224"/><use href="#o" x="373" y="203"/><use href="#o" x="429" y="311"/><use href="#b" x="329" y="198"/><use href="#b" x="360" y="248"/><use href="#o" x="363" y="260"/><use href="#o" x="366" y="277"/><use href="#b" x="359" y="210"/><use href="#b" x="330" y="162"/><use href="#b" x="281" y="295"/><use href="#b" x="369" y="312"/><use href="#b" x="348" y="224"/><use href="#b" x="268" y="286"/><use href="#o" x="350" y="273"/><use href="#o" x="380" y="259"/><use href="#b" x="399" y="258"/><use href="#b" x="318" y="213"/><use href="#b" x="400" y="290"/><use href="#b" x="375" y="196"/><use href="#b" x="451" y="304"/><use href="#b" x="377" y="234"/><use href="#b" x="391" y="230"/><use href="#b" x="412" y="294"/><use href="#b" x="400" y="299"/><use href="#b" x="361" y="323"/><use href="#b" x="390" y="280"/><use href="#b" x="273" y="186"/><use href="#b" x="391" y="270"/><use href="#b" x="328" y="194"/><use href="#b" x="411" y="277"/><use href="#b" x="394" y="291"/><use href="#b" x="340" y="190"/><use href="#b" x="414" y="286"/><use href="#b" x="418" y="297"/><use href="#b" x="416" y="294"/><use href="#b" x="393" y="263"/><use href="#b" x="368" y="255"/><use href="#b" x="342" y="135"/><use href="#b" x="367" y="248"/><use href="#b" x="345" y="202"/><use href="#b" x="460" y="262"/><use href="#b" x="360" y="215"/><use href="#b" x="320" y="155"/><use href="#b" x="350" y="209"/><use href="#b" x="348" y="313"/><use href="#b" x="391" y="250"/><use href="#b" x="332" y="193"/><use href="#b" x="352" y="208"/><use href="#b" x="324" y="179"/><use href="#b" x="374" y="259"/><use href="#b" x="418" y="295"/><use href="#b" x="395" y="251"/><use href="#b" x="369" y="193"/><use href="#b" x="422" y="301"/><use href="#b" x="334" y="194"/><use href="#b" x="340" y="180"/><use href="#b" x="326" y="205"/><use href="#b" x="316" y="157"/><use href="#b" x="407" y="276"/><use href="#b" x="388" y="243"/><use href="#b" x="420" y="286"/><use href="#b" x="420" y="302"/><use href="#b" x="383" y="237"/><use href="#b" x="378" y="260"/><use href="#b" x="334" y="188"/><use href="#b" x="403" y="270"/><use href="#b" x="427" y="306"/><use href="#b" x="365" y="218"/><use href="#b" x="370" y="218"/><use href="#b" x="358" y="279"/><use href="#b" x="330" y="239"/><use href="#b" x="358" y="217"/><use href="#b" x="370" y="334"/><use href="#b" x="339" y="221"/><use href="#b" x="325" y="194"/><use href="#b" x="424" y="299"/><use href="#b" x="361" y="267"/><use href="#b" x="332" y="145"/><use href="#b" x="340" y="198"/><use href="#b" x="421" y="289"/><use href="#b" x="406" y="263"/><use href="#b" x="355" y="188"/><use href="#b" x="342" y="222"/><use href="#b" x="318" y="145"/><use href="#b" x="342" y="184"/><use href="#b" x="392" y="296"/><use href="#b" x="382" y="285"/><use href="#b" x="331" y="213"/><use href="#b" x="384" y="333"/><use href="#b" x="339" y="258"/><use href="#b" x="399" y="274"/><use href="#b" x="344" y="228"/><use href="#b" x="321" y="141"/><use href="#b" x="367" y="168"/><use href="#b" x="398" y="292"/><use href="#b" x="340" y="285"/><use href="#b" x="498" y="301"/><use href="#b" x="330" y="234"/><use href="#b" x="370" y="187"/><use href="#b" x="400" y="289"/><use href="#b" x="352" y="207"/><use href="#b" x="474" y="305"/><use href="#b" x="327" y="221"/><use href="#b" x="411" y="328"/><use href="#b" x="337" y="191"/><use href="#b" x="341" y="180"/><use href="#b" x="391" y="295"/><use href="#b" x="415" y="274"/><use href="#b" x="399" y="297"/><use href="#b" x="299" y="229"/><use href="#b" x="356" y="266"/><use href="#b" x="343" y="197"/><use href="#b" x="354" y="233"/><use href="#b" x="336" y="159"/><use href="#b" x="406" y="299"/><use href="#b" x="372" y="264"/><use href="#b" x="445" y="325"/><use href="#b" x="414" y="297"/><use href="#b" x="349" y="213"/><use href="#b" x="411" y="284"/><use href="#b" x="354" y="220"/><use href="#b" x="388" y="249"/><use href="#b" x="395" y="294"/><use href="#b" x="407" y="290"/><use href="#b" x="351" y="204"/><use href="#b" x="394" y="260"/><use href="#b" x="376" y="201"/><use href="#b" x="419" y="288"/><use href="#b" x="457" y="325"/><use href="#b" x="397" y="256"/><use href="#b" x="323" y="174"/><use href="#b" x="352" y="268"/><use href="#b" x="339" y="333"/><use href="#b" x="429" y="299"/><use href="#b" x="302" y="120"/><use href="#b" x="379" y="230"/><use href="#b" x="350" y="192"/><use href="#b" x="401" y="284"/><use href="#b" x="349" y="203"/><use href="#b" x="395" y="286"/><use href="#b" x="403" y="286"/><use href="#b" x="413" y="299"/><use href="#b" x="330" y="203"/><use href="#b" x="322" y="178"/><use href="#b" x="414" y="271"/><use href="#b" x="342" y="145"/><use href="#b" x="338" y="171"/><use href="#b" x="427" y="300"/><use href="#b" x="427" y="303"/><use href="#b" x="386" y="274"/><use href="#b" x="346" y="149"/><use href="#b" x="398" y="249"/><use href="#b" x="405" y="266"/><use href="#b" x="372" y="268"/><use href="#b" x="363" y="248"/><use href="#b" x="350" y="322"/><use href="#b" x="405" y="299"/><use href="#b" x="404" y="283"/><use href="#b" x="436" y="302"/><use href="#b" x="343" y="311"/><use href="#b" x="418" y="290"/><use href="#b" x="387" y="238"/><use href="#b" x="395" y="295"/><use href="#b" x="451" y="305"/><use href="#b" x="360" y="257"/><use href="#b" x="384" y="252"/><use href="#b" x="343" y="218"/><use href="#b" x="369" y="327"/><use href="#b" x="379" y="289"/><use href="#b" x="421" y="291"/><use href="#b" x="393" y="281"/><use href="#b" x="408" y="283"/><use href="#b" x="387" y="293"/><use href="#b" x="359" y="202"/><use href="#b" x="378" y="282"/><use href="#b" x="325" y="143"/><use href="#b" x="388" y="282"/><use href="#b" x="361" y="241"/><use href="#b" x="371" y="267"/><use href="#b" x="359" y="255"/><use href="#b" x="367" y="229"/><use href="#b" x="412" y="290"/><use href="#b" x="410" y="292"/><use href="#b" x="289" y="287"/><use href="#b" x="375" y="228"/><use href="#b" x="431" y="296"/><use href="#b" x="425" y="295"/><use href="#b" x="468" y="300"/><use href="#b" x="349" y="246"/><use href="#b" x="379" y="265"/><use href="#b" x="390" y="228"/><use href="#b" x="355" y="202"/><use href="#b" x="419" y="286"/><use href="#b" x="393" y="283"/><use href="#b" x="379" y="228"/><use href="#b" x="443" y="306"/><use href="#b" x="398" y="286"/><use href="#b" x="418" y="279"/><use href="#b" x="375" y="232"/><use href="#b" x="367" y="240"/><use href="#b" x="376" y="194"/><use href="#b" x="407" y="302"/><use href="#b" x="373" y="267"/><use href="#b" x="389" y="268"/><use href="#b" x="380" y="243"/><use href="#b" x="405" y="268"/><use href="#b" x="364" y="279"/><use href="#b" x="339" y="165"/><use href="#b" x="329" y="242"/><use href="#b" x="380" y="334"/><use href="#b" x="354" y="256"/><use href="#b" x="366" y="234"/><use href="#b" x="414" y="274"/><use href="#b" x="396" y="289"/><use href="#b" x="356" y="230"/><use href="#b" x="364" y="228"/><use href="#b" x="341" y="199"/><use href="#b" x="365" y="300"/><use href="#b" x="397" y="262"/><use href="#b" x="389" y="297"/><use href="#b" x="357" y="216"/><use href="#b" x="379" y="198"/><use href="#b" x="388" y="265"/><use href="#b" x="367" y="221"/><use href="#b" x="392" y="253"/><use href="#b" x="398" y="231"/><use href="#b" x="439" y="335"/><use href="#b" x="399" y="273"/><use href="#b" x="337" y="172"/><use href="#b" x="389" y="281"/><use href="#b" x="431" y="301"/><use href="#b" x="328" y="199"/><use href="#b" x="358" y="272"/><use href="#b" x="383" y="289"/><use href="#b" x="418" y="289"/><use href="#b" x="373" y="250"/><use href="#b" x="406" y="322"/><use href="#b" x="388" y="286"/><use href="#b" x="390" y="240"/><use href="#b" x="371" y="246"/><use href="#b" x="349" y="255"/><use href="#b" x="363" y="209"/><use href="#b" x="379" y="239"/><use href="#b" x="374" y="273"/><use href="#b" x="426" y="294"/><use href="#b" x="394" y="290"/><use href="#b" x="383" y="252"/><use href="#b" x="306" y="129"/><use href="#b" x="347" y="143"/><use href="#b" x="335" y="241"/><use href="#b" x="375" y="314"/><use href="#b" x="378" y="293"/><use href="#b" x="397" y="265"/><use href="#b" x="380" y="277"/><use href="#b" x="451" y="307"/><use href="#b" x="407" y="278"/><use href="#b" x="380" y="331"/><use href="#b" x="388" y="251"/><use href="#b" x="414" y="288"/><use href="#b" x="433" y="298"/><use href="#b" x="388" y="290"/><use href="#b" x="412" y="288"/><use href="#b" x="393" y="279"/><use href="#b" x="416" y="300"/><use href="#b" x="355" y="177"/><use href="#b" x="385" y="222"/><use href="#b" x="352" y="195"/><use href="#b" x="351" y="234"/><use href="#b" x="428" y="299"/><use href="#b" x="442" y="301"/><use href="#b" x="386" y="216"/><use href="#b" x="325" y="180"/><use href="#b" x="402" y="266"/><use href="#b" x="369" y="251"/><use href="#b" x="401" y="281"/><use href="#b" x="334" y="130"/><use href="#b" x="389" y="289"/><use href="#b" x="408" y="279"/><use href="#b" x="336" y="179"/><use href="#b" x="392" y="268"/><use href="#b" x="401" y="300"/><use href="#b" x="337" y="167"/><use href="#b" x="334" y="276"/><use href="#b" x="415" y="303"/><use href="#b" x="375" y="223"/><use href="#b" x="407" y="262"/><use href="#b" x="353" y="213"/><use href="#b" x="340" y="176"/><use href="#b" x="378" y="236"/><use href="#b" x="307" y="135"/><use href="#b" x="326" y="244"/><use href="#b" x="343" y="229"/><use href="#b" x="398" y="330"/><use href="#b" x="303" y="139"/><use href="#b" x="358" y="197"/><use href="#b" x="281" y="136"/><use href="#b" x="407" y="284"/><use href="#b" x="377" y="283"/><use href="#b" x="346" y="183"/><use href="#b" x="361" y="235"/><use href="#b" x="330" y="198"/><use href="#b" x="354" y="245"/><use href="#b" x="356" y="238"/><use href="#b" x="396" y="271"/><use href="#b" x="388" y="248"/><use href="#b" x="359" y="208"/><use href="#b" x="364" y="275"/><use href="#b" x="420" y="285"/><use href="#b" x="332" y="165"/><use href="#b" x="295" y="219"/><use href="#b" x="321" y="289"/><use href="#b" x="366" y="166"/><use href="#b" x="391" y="282"/><use href="#b" x="401" y="263"/><use href="#b" x="352" y="184"/><use href="#b" x="345" y="246"/><use href="#b" x="352" y="269"/><use href="#b" x="354" y="189"/><use href="#b" x="418" y="299"/><use href="#b" x="348" y="266"/><use href="#b" x="368" y="216"/><use href="#b" x="358" y="274"/><use href="#b" x="369" y="259"/><use href="#b" x="410" y="290"/><use href="#b" x="366" y="252"/><use href="#b" x="412" y="284"/><use href="#b" x="424" y="291"/><use href="#b" x="342" y="215"/><use href="#b" x="352" y="248"/><use href="#b" x="353" y="233"/><use href="#b" x="417" y="282"/><use href="#b" x="432" y="297"/><use href="#b" x="337" y="157"/><use href="#b" x="346" y="200"/><use href="#b" x="349" y="215"/><use href="#b" x="371" y="243"/><use href="#b" x="339" y="332"/><use href="#b" x="447" y="306"/><use href="#b" x="361" y="215"/><use href="#b" x="343" y="275"/><use href="#b" x="392" y="267"/><use href="#b" x="383" y="227"/><use href="#b" x="396" y="228"/><use href="#b" x="326" y="176"/><use href="#b" x="388" y="253"/><use href="#b" x="385" y="262"/><use href="#b" x="94" y="334"/><use href="#b" x="402" y="261"/><use href="#b" x="374" y="245"/><use href="#b" x="412" y="289"/><use href="#b" x="426" y="295"/><use href="#b" x="332" y="169"/><use href="#b" x="342" y="182"/><use href="#b" x="394" y="293"/><use href="#b" x="370" y="316"/><use href="#b" x="405" y="264"/><use href="#b" x="382" y="239"/><use href="#b" x="358" y="220"/><use href="#b" x="410" y="271"/><use href="#b" x="405" y="302"/><use href="#b" x="472" y="333"/><use href="#b" x="355" y="324"/><use href="#b" x="382" y="287"/><use href="#b" x="399" y="239"/><use href="#b" x="346" y="244"/><use href="#b" x="418" y="296"/><use href="#b" x="381" y="273"/><use href="#b" x="403" y="335"/><use href="#b" x="357" y="198"/><use href="#b" x="289" y="145"/><use href="#b" x="406" y="277"/><use href="#b" x="363" y="242"/><use href="#b" x="413" y="284"/><use href="#b" x="381" y="240"/><use href="#b" x="289" y="115"/><use href="#b" x="311" y="152"/><use href="#b" x="393" y="277"/><use href="#b" x="390" y="291"/><use href="#b" x="393" y="280"/><use href="#b" x="385" y="238"/><use href="#b" x="377" y="233"/><use href="#b" x="252" y="244"/><use href="#b" x="386" y="280"/><use href="#b" x="343" y="190"/><use href="#b" x="377" y="268"/><use href="#b" x="394" y="258"/><use href="#b" x="336" y="150"/><use href="#b" x="410" y="265"/><use href="#b" x="379" y="224"/><use href="#b" x="357" y="226"/><use href="#b" x="418" y="282"/><use href="#b" x="403" y="292"/><use href="#b" x="362" y="220"/><use href="#b" x="338" y="177"/><use href="#b" x="421" y="296"/><use href="#b" x="394" y="285"/><use href="#b" x="349" y="245"/><use href="#b" x="408" y="285"/><use href="#b" x="383" y="246"/><use href="#b" x="373" y="223"/><use href="#b" x="442" y="303"/><use href="#b" x="379" y="238"/><use href="#b" x="390" y="278"/><use href="#b" x="328" y="165"/><use href="#b" x="365" y="256"/><use href="#b" x="334" y="177"/><use href="#b" x="469" y="280"/><use href="#b" x="410" y="280"/><use href="#b" x="371" y="241"/><use href="#b" x="430" y="300"/><use href="#b" x="412" y="270"/><use href="#b" x="413" y="292"/><use href="#b" x="452" y="301"/><use href="#b" x="387" y="289"/><use href="#b" x="399" y="292"/><use href="#b" x="417" y="288"/><use href="#b" x="462" y="305"/><use href="#b" x="398" y="270"/><use href="#b" x="636" y="333"/><use href="#b" x="404" y="293"/><use href="#b" x="342" y="207"/><use href="#b" x="443" y="299"/><use href="#b" x="362" y="183"/><use href="#b" x="359" y="320"/><use href="#b" x="416" y="283"/><use href="#b" x="521" y="278"/><use href="#b" x="333" y="169"/></g>
<rect x="370" y="31" width="1" height="319" fill="#6b7322"/>
</svg></body></html>
